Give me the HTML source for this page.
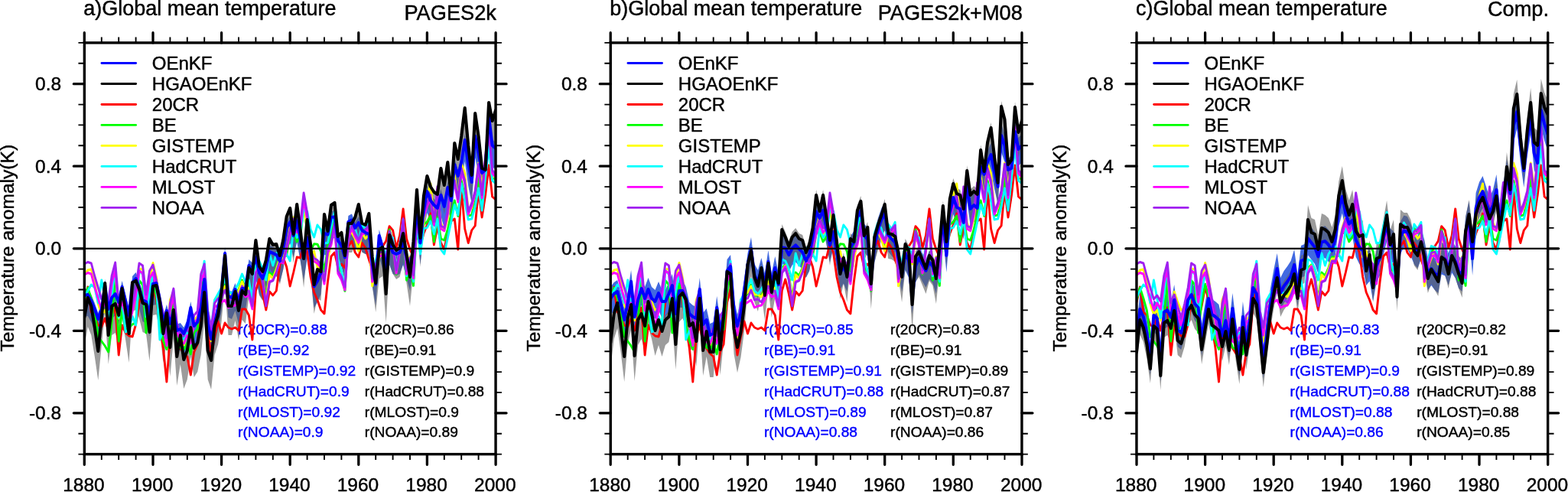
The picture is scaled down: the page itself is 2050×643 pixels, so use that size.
<!DOCTYPE html>
<html><head><meta charset="utf-8"><title>Global mean temperature</title>
<style>html,body{margin:0;padding:0;background:#fff}body{width:2050px;height:643px;overflow:hidden}svg{display:block}text{stroke:#000;stroke-width:.45px;stroke-linejoin:round}text.bl{fill:#00f;stroke:#00f}</style>
</head><body>
<svg width="2050" height="643" viewBox="0 0 2050 643" font-family='"Liberation Sans", sans-serif'>
<rect width="2050" height="643" fill="#fff"/>
<g>
<clipPath id="c0"><rect x="110.35" y="55.9" width="537.7" height="537.7"/></clipPath>
<g clip-path="url(#c0)" fill="none" stroke-linejoin="round" stroke-linecap="round">
<polygon points="110.3,378.0 114.8,377.0 119.3,385.0 123.8,396.0 128.3,409.0 132.8,396.0 137.2,365.0 141.7,396.0 146.2,381.0 150.7,376.0 155.2,387.0 159.6,367.0 164.1,385.0 168.6,404.0 173.1,361.0 177.6,356.0 182.0,367.0 186.5,384.3 191.0,386.0 195.5,403.5 200.0,363.0 204.4,362.0 208.9,383.0 213.4,413.6 217.9,398.0 222.4,415.0 226.9,398.0 231.3,424.0 235.8,422.0 240.3,428.0 244.8,418.0 249.3,394.0 253.7,418.0 258.2,413.0 262.7,394.0 267.2,357.0 271.7,415.0 276.1,435.0 280.6,415.0 285.1,394.0 289.6,371.0 294.1,323.0 298.5,378.7 303.0,381.1 307.5,370.0 312.0,387.2 316.5,369.0 320.9,369.4 325.4,339.0 329.9,343.5 334.4,328.4 338.9,348.4 343.4,356.1 347.8,342.3 352.3,320.8 356.8,322.8 361.3,325.1 365.8,333.3 370.2,316.5 374.7,289.7 379.2,282.0 383.7,300.3 388.2,280.6 392.6,304.7 397.1,330.1 401.6,302.2 406.1,326.5 410.6,366.4 415.0,359.1 419.5,348.6 424.0,296.9 428.5,298.5 433.0,276.1 437.5,275.3 441.9,306.5 446.4,312.7 450.9,328.4 455.4,282.0 459.9,279.5 464.3,290.0 468.8,283.0 473.3,293.0 477.8,296.0 482.3,298.0 486.7,336.9 491.2,363.6 495.7,300.0 500.2,316.0 504.7,342.0 509.1,310.0 513.6,322.0 518.1,324.0 522.6,322.0 527.1,310.0 531.5,328.0 536.0,344.0 540.5,314.0 545.0,262.0 549.5,309.5 554.0,267.0 558.4,242.0 562.9,254.0 567.4,260.0 571.9,264.0 576.4,247.0 580.8,262.0 585.3,237.0 589.8,254.0 594.3,207.0 598.8,222.0 603.2,204.0 607.7,175.0 612.2,207.0 616.7,230.0 621.2,170.0 625.6,192.0 630.1,218.0 634.6,214.0 639.1,144.0 643.6,182.0 648.1,186.0 648.1,222.0 643.6,218.0 639.1,180.0 634.6,250.0 630.1,254.0 625.6,228.0 621.2,206.0 616.7,266.0 612.2,243.0 607.7,211.0 603.2,240.0 598.8,258.0 594.3,243.0 589.8,290.0 585.3,273.0 580.8,298.0 576.4,283.0 571.9,300.0 567.4,296.0 562.9,290.0 558.4,278.0 554.0,303.0 549.5,345.5 545.0,298.0 540.5,350.0 536.0,380.0 531.5,364.0 527.1,346.0 522.6,358.0 518.1,360.0 513.6,358.0 509.1,346.0 504.7,378.0 500.2,352.0 495.7,336.0 491.2,399.6 486.7,372.9 482.3,334.0 477.8,332.0 473.3,329.0 468.8,319.0 464.3,326.0 459.9,315.5 455.4,318.0 450.9,364.4 446.4,348.7 441.9,342.5 437.5,311.3 433.0,312.1 428.5,334.5 424.0,332.9 419.5,384.6 415.0,395.1 410.6,402.4 406.1,362.5 401.6,338.2 397.1,366.1 392.6,340.7 388.2,316.6 383.7,336.3 379.2,318.0 374.7,325.7 370.2,352.5 365.8,369.3 361.3,361.1 356.8,358.8 352.3,356.8 347.8,378.3 343.4,392.1 338.9,384.4 334.4,364.4 329.9,379.5 325.4,375.0 320.9,405.4 316.5,405.0 312.0,423.2 307.5,406.0 303.0,417.1 298.5,414.7 294.1,359.0 289.6,407.0 285.1,430.0 280.6,451.0 276.1,471.0 271.7,451.0 267.2,393.0 262.7,430.0 258.2,449.0 253.7,454.0 249.3,430.0 244.8,454.0 240.3,464.0 235.8,458.0 231.3,460.0 226.9,434.0 222.4,451.0 217.9,434.0 213.4,449.6 208.9,419.0 204.4,398.0 200.0,399.0 195.5,439.5 191.0,422.0 186.5,420.3 182.0,403.0 177.6,392.0 173.1,397.0 168.6,440.0 164.1,421.0 159.6,403.0 155.2,423.0 150.7,412.0 146.2,417.0 141.7,432.0 137.2,401.0 132.8,432.0 128.3,445.0 123.8,432.0 119.3,421.0 114.8,413.0 110.3,414.0" fill="#4169e1" fill-opacity="1" stroke="none"/>
<polygon points="110.3,413.0 114.8,387.0 119.3,398.0 123.8,426.0 128.3,457.0 132.8,412.0 137.2,368.0 141.7,436.0 146.2,398.0 150.7,395.0 155.2,410.0 159.6,375.0 164.1,404.0 168.6,434.0 173.1,367.0 177.6,365.0 182.0,376.0 186.5,394.0 191.0,396.0 195.5,432.0 200.0,372.0 204.4,371.0 208.9,392.0 213.4,434.0 217.9,407.0 222.4,452.0 226.9,403.0 231.3,464.0 235.8,436.0 240.3,468.0 244.8,456.0 249.3,426.0 253.7,453.0 258.2,446.0 262.7,424.0 267.2,380.0 271.7,456.0 276.1,469.0 280.6,424.0 285.1,410.0 289.6,380.0 294.1,332.0 298.5,398.0 303.0,398.0 307.5,379.0 312.0,404.0 316.5,378.0 320.9,383.0 325.4,348.0 329.9,356.0 334.4,312.0 338.9,346.0 343.4,353.0 347.8,338.0 352.3,310.0 356.8,318.0 361.3,317.0 365.8,332.0 370.2,312.0 374.7,281.0 379.2,270.0 383.7,304.0 388.2,265.0 392.6,298.0 397.1,336.0 401.6,285.0 406.1,318.0 410.6,370.0 415.0,350.0 419.5,353.0 424.0,278.0 428.5,300.0 433.0,266.0 437.5,263.0 441.9,307.0 446.4,302.0 450.9,332.0 455.4,290.0 459.9,290.0 464.3,282.0 468.8,265.0 473.3,290.0 477.8,292.0 482.3,277.0 486.7,334.0 491.2,368.0 495.7,324.0 500.2,321.0 504.7,382.0 509.1,305.0 513.6,318.0 518.1,325.0 522.6,322.0 527.1,303.0 531.5,330.0 536.0,360.0 540.5,314.0 545.0,246.0 549.5,309.0 554.0,254.0 558.4,228.0 562.9,242.0 567.4,249.0 571.9,252.0 576.4,218.0 580.8,240.0 585.3,210.0 589.8,254.0 594.3,185.0 598.8,206.0 603.2,176.0 607.7,139.0 612.2,188.0 616.7,227.0 621.2,146.0 625.6,176.0 630.1,218.0 634.6,220.0 639.1,132.0 643.6,156.0 648.1,142.0 648.1,182.0 643.6,196.0 639.1,172.0 634.6,260.0 630.1,258.0 625.6,216.0 621.2,186.0 616.7,267.0 612.2,228.0 607.7,179.0 603.2,216.0 598.8,246.0 594.3,225.0 589.8,294.0 585.3,250.0 580.8,280.0 576.4,258.0 571.9,292.0 567.4,289.0 562.9,282.0 558.4,268.0 554.0,294.0 549.5,349.0 545.0,286.0 540.5,354.0 536.0,400.0 531.5,370.0 527.1,343.0 522.6,362.0 518.1,365.0 513.6,358.0 509.1,345.0 504.7,422.0 500.2,361.0 495.7,364.0 491.2,408.0 486.7,374.0 482.3,317.0 477.8,332.0 473.3,330.0 468.8,305.0 464.3,322.0 459.9,330.0 455.4,330.0 450.9,372.0 446.4,342.0 441.9,347.0 437.5,303.0 433.0,306.0 428.5,340.0 424.0,318.0 419.5,393.0 415.0,390.0 410.6,410.0 406.1,358.0 401.6,325.0 397.1,376.0 392.6,338.0 388.2,305.0 383.7,344.0 379.2,310.0 374.7,321.0 370.2,352.0 365.8,372.0 361.3,357.0 356.8,358.0 352.3,350.0 347.8,378.0 343.4,393.0 338.9,386.0 334.4,352.0 329.9,396.0 325.4,388.0 320.9,423.0 316.5,418.0 312.0,444.0 307.5,419.0 303.0,438.0 298.5,438.0 294.1,372.0 289.6,420.0 285.1,450.0 280.6,464.0 276.1,509.0 271.7,496.0 267.2,420.0 262.7,464.0 258.2,486.0 253.7,493.0 249.3,466.0 244.8,496.0 240.3,508.0 235.8,476.0 231.3,504.0 226.9,443.0 222.4,492.0 217.9,447.0 213.4,474.0 208.9,432.0 204.4,411.0 200.0,412.0 195.5,472.0 191.0,436.0 186.5,434.0 182.0,416.0 177.6,405.0 173.1,407.0 168.6,474.0 164.1,444.0 159.6,415.0 155.2,450.0 150.7,435.0 146.2,438.0 141.7,476.0 137.2,408.0 132.8,452.0 128.3,497.0 123.8,466.0 119.3,438.0 114.8,427.0 110.3,453.0" fill="#606060" fill-opacity="0.62" stroke="none"/>
</g>
<g font-size="19.2">
<text x="311.1" y="437.4" class="bl">r(20CR)=0.88</text>
<text x="476.8" y="437.4" fill="#000">r(20CR)=0.86</text>
<text x="311.1" y="464.2" class="bl">r(BE)=0.92</text>
<text x="476.8" y="464.2" fill="#000">r(BE)=0.91</text>
<text x="311.1" y="491.0" class="bl">r(GISTEMP)=0.92</text>
<text x="476.8" y="491.0" fill="#000">r(GISTEMP)=0.9</text>
<text x="311.1" y="517.8" class="bl">r(HadCRUT)=0.9</text>
<text x="476.8" y="517.8" fill="#000">r(HadCRUT)=0.88</text>
<text x="311.1" y="544.6" class="bl">r(MLOST)=0.92</text>
<text x="476.8" y="544.6" fill="#000">r(MLOST)=0.9</text>
<text x="311.1" y="571.4" class="bl">r(NOAA)=0.9</text>
<text x="476.8" y="571.4" fill="#000">r(NOAA)=0.89</text>
</g>
<g clip-path="url(#c0)" fill="none" stroke-linejoin="round" stroke-linecap="round">
<polyline points="110.3,395.0 114.8,375.0 119.3,408.0 123.8,412.0 128.3,425.0 132.8,427.0 137.2,416.0 141.7,432.0 146.2,412.0 150.7,402.0 155.2,464.0 159.6,425.0 164.1,435.0 168.6,439.0 173.1,440.0 177.6,424.0 182.0,395.0 186.5,385.0 191.0,420.0 195.5,400.0 200.0,375.0 204.4,392.0 208.9,425.0 213.4,455.0 217.9,499.0 222.4,440.0 226.9,425.0 231.3,448.0 235.8,455.0 240.3,462.0 244.8,466.0 249.3,490.0 253.7,460.0 258.2,450.0 262.7,395.0 267.2,378.0 271.7,432.0 276.1,464.0 280.6,440.0 285.1,420.0 289.6,436.0 294.1,422.0 298.5,428.0 303.0,430.0 307.5,428.0 312.0,432.0 316.5,404.0 320.9,404.0 325.4,412.0 329.9,444.0 334.4,380.0 338.9,365.0 343.4,384.0 347.8,405.0 352.3,381.0 356.8,386.0 361.3,380.0 365.8,346.0 370.2,336.0 374.7,349.0 379.2,374.0 383.7,356.0 388.2,336.0 392.6,337.0 397.1,318.0 401.6,330.0 406.1,362.0 410.6,382.0 415.0,392.0 419.5,405.0 424.0,410.0 428.5,368.0 433.0,335.0 437.5,330.0 441.9,350.0 446.4,345.0 450.9,350.0 455.4,322.0 459.9,315.0 464.3,330.0 468.8,336.0 473.3,317.5 477.8,324.0 482.3,339.0 486.7,352.0 491.2,345.0 495.7,330.0 500.2,322.0 504.7,315.0 509.1,295.6 513.6,301.0 518.1,324.0 522.6,308.0 527.1,273.0 531.5,312.0 536.0,326.0 540.5,336.0 545.0,305.0 549.5,322.0 554.0,305.0 558.4,294.0 562.9,279.0 567.4,320.0 571.9,296.0 576.4,317.5 580.8,326.0 585.3,304.0 589.8,289.0 594.3,286.0 598.8,326.0 603.2,246.0 607.7,299.0 612.2,317.5 616.7,301.0 621.2,295.0 625.6,249.0 630.1,284.0 634.6,255.0 639.1,216.0 643.6,257.0 648.1,261.0" stroke="#ff0000" stroke-width="2.9"/>
<polyline points="110.3,392.0 114.8,376.0 119.3,390.0 123.8,406.0 128.3,440.0 132.8,446.0 137.2,452.0 141.7,460.0 146.2,420.0 150.7,362.6 155.2,446.0 159.6,405.3 164.1,432.0 168.6,428.0 173.1,424.0 177.6,421.5 182.0,366.6 186.5,372.0 191.0,435.0 195.5,394.3 200.0,371.2 204.4,386.3 208.9,424.7 213.4,445.4 217.9,456.4 222.4,418.0 226.9,392.7 231.3,441.6 235.8,454.0 240.3,457.0 244.8,448.4 249.3,462.9 253.7,434.1 258.2,430.6 262.7,382.2 267.2,354.5 271.7,419.6 276.1,442.4 280.6,396.0 285.1,388.0 289.6,384.0 294.1,372.0 298.5,386.0 303.0,386.0 307.5,386.0 312.0,378.0 316.5,366.0 320.9,376.0 325.4,374.0 329.9,396.0 334.4,350.0 338.9,346.0 343.4,358.0 347.8,392.0 352.3,356.0 356.8,360.0 361.3,350.0 365.8,336.0 370.2,336.0 374.7,334.0 379.2,304.9 383.7,303.2 388.2,315.9 392.6,309.7 397.1,269.9 401.6,301.9 406.1,327.7 410.6,318.8 415.0,319.1 419.5,328.5 424.0,355.1 428.5,322.6 433.0,301.1 437.5,282.5 441.9,343.3 446.4,359.7 450.9,380.4 455.4,310.5 459.9,296.3 464.3,304.0 468.8,321.8 473.3,298.4 477.8,304.9 482.3,295.7 486.7,368.6 491.2,346.3 495.7,326.9 500.2,328.5 504.7,339.0 509.1,300.0 513.6,315.9 518.1,358.6 522.6,326.1 527.1,292.0 531.5,366.2 536.0,348.7 540.5,373.4 545.0,296.0 549.5,325.3 554.0,293.3 558.4,290.0 562.9,282.0 567.4,316.0 571.9,284.0 576.4,312.0 580.8,314.0 585.3,300.0 589.8,280.0 594.3,262.0 598.8,282.5 603.2,236.0 607.7,256.0 612.2,282.0 616.7,281.0 621.2,262.0 625.6,232.5 630.1,268.0 634.6,228.0 639.1,186.0 643.6,230.0 648.1,236.0" stroke="#00ff00" stroke-width="2.9"/>
<polyline points="110.3,360.0 114.8,353.0 119.3,352.0 123.8,367.7 128.3,397.3 132.8,410.7 137.2,405.3 141.7,418.8 146.2,367.7 150.7,348.9 155.2,416.1 159.6,381.1 164.1,394.6 168.6,405.3 173.1,402.7 177.6,381.1 182.0,351.6 186.5,351.6 191.0,394.6 195.5,367.7 200.0,343.5 204.4,362.3 208.9,397.3 213.4,421.5 217.9,448.4 222.4,391.9 226.9,381.1 231.3,426.8 235.8,437.6 240.3,451.0 244.8,437.6 249.3,440.3 253.7,418.8 258.2,413.4 262.7,362.3 267.2,359.6 271.7,418.8 276.1,445.7 280.6,392.0 285.1,386.0 289.6,382.0 294.1,374.0 298.5,385.0 303.0,385.0 307.5,388.0 312.0,380.0 316.5,368.0 320.9,378.0 325.4,376.0 329.9,398.0 334.4,354.0 338.9,347.0 343.4,362.0 347.8,396.0 352.3,359.0 356.8,364.0 361.3,352.0 365.8,338.0 370.2,338.0 374.7,324.0 379.2,298.0 383.7,284.0 388.2,306.0 392.6,300.0 397.1,272.0 401.6,298.0 406.1,336.0 410.6,328.1 415.0,349.6 419.5,349.6 424.0,365.7 428.5,338.8 433.0,317.3 437.5,298.5 441.9,354.9 446.4,357.6 450.9,371.1 455.4,306.6 459.9,303.9 464.3,311.9 468.8,328.1 473.3,303.9 477.8,311.9 482.3,306.6 486.7,373.8 491.2,349.6 495.7,337.4 500.2,327.9 504.7,345.3 509.1,311.7 513.6,318.3 518.1,349.1 522.6,326.2 527.1,287.2 531.5,350.3 536.0,335.4 540.5,360.9 545.0,285.6 549.5,315.2 554.0,291.0 558.4,256.1 562.9,240.0 567.4,288.4 571.9,250.7 576.4,291.0 580.8,301.7 585.3,285.6 589.8,248.0 594.3,229.1 598.8,261.4 603.2,213.0 607.7,226.5 612.2,274.8 616.7,272.2 621.2,250.7 625.6,213.0 630.1,245.3 634.6,210.3 639.1,170.0 643.6,231.8 648.1,229.1" stroke="#ffff00" stroke-width="2.9"/>
<polyline points="110.3,388.0 114.8,380.0 119.3,372.0 123.8,376.0 128.3,396.0 132.8,366.0 137.2,390.0 141.7,415.6 146.2,385.8 150.7,349.2 155.2,415.1 159.6,392.0 164.1,434.0 168.6,430.4 173.1,413.5 177.6,425.0 182.0,353.2 186.5,358.6 191.0,414.0 195.5,380.9 200.0,357.8 204.4,372.9 208.9,444.0 213.4,432.0 217.9,443.0 222.4,404.6 226.9,379.3 231.3,428.3 235.8,440.6 240.3,443.6 244.8,435.0 249.3,449.5 253.7,420.7 258.2,417.2 262.7,368.8 267.2,341.1 271.7,406.2 276.1,429.1 280.6,392.0 285.1,384.0 289.6,376.0 294.1,365.0 298.5,380.0 303.0,384.0 307.5,378.0 312.0,370.0 316.5,358.0 320.9,368.0 325.4,366.0 329.9,392.0 334.4,339.0 338.9,341.0 343.4,351.0 347.8,366.0 352.3,331.0 356.8,347.0 361.3,332.0 365.8,325.0 370.2,322.0 374.7,332.0 379.2,341.0 383.7,297.9 388.2,310.5 392.6,304.3 397.1,274.0 401.6,276.0 406.1,300.0 410.6,310.0 415.0,294.0 419.5,300.0 424.0,318.0 428.5,317.2 433.0,295.7 437.5,277.2 441.9,337.9 446.4,354.3 450.9,375.0 455.4,305.1 459.9,290.9 464.3,298.7 468.8,316.4 473.3,293.0 477.8,299.5 482.3,290.3 486.7,363.2 491.2,340.9 495.7,321.5 500.2,323.1 504.7,333.6 509.1,310.0 513.6,310.5 518.1,353.2 522.6,320.7 527.1,286.6 531.5,360.8 536.0,343.3 540.5,368.0 545.0,290.6 549.5,332.0 554.0,299.0 558.4,297.5 562.9,289.0 567.4,306.0 571.9,286.0 576.4,326.0 580.8,332.0 585.3,311.0 589.8,290.0 594.3,267.5 598.8,281.0 603.2,240.0 607.7,262.0 612.2,287.0 616.7,286.0 621.2,270.0 625.6,246.0 630.1,275.0 634.6,232.0 639.1,192.0 643.6,236.0 648.1,240.0" stroke="#00ffff" stroke-width="2.9"/>
<polyline points="110.3,359.0 114.8,356.5 119.3,358.0 123.8,375.0 128.3,390.0 132.8,405.0 137.2,396.0 141.7,404.0 146.2,370.0 150.7,353.0 155.2,406.0 159.6,395.0 164.1,411.0 168.6,425.0 173.1,407.0 177.6,386.0 182.0,354.0 186.5,357.0 191.0,395.0 195.5,364.0 200.0,356.0 204.4,376.0 208.9,400.0 213.4,419.0 217.9,451.7 222.4,406.0 226.9,387.1 231.3,432.8 235.8,446.3 240.3,449.0 244.8,438.2 249.3,449.0 253.7,422.1 258.2,416.7 262.7,368.3 267.2,354.9 271.7,416.7 276.1,438.2 280.6,402.0 285.1,398.0 289.6,395.0 294.1,392.0 298.5,402.0 303.0,400.0 307.5,399.0 312.0,392.0 316.5,380.0 320.9,388.0 325.4,386.0 329.9,404.0 334.4,356.0 338.9,348.0 343.4,364.0 347.8,398.0 352.3,368.0 356.8,366.0 361.3,356.0 365.8,342.0 370.2,344.0 374.7,326.0 379.2,306.0 383.7,292.0 388.2,304.0 392.6,298.0 397.1,262.0 401.6,286.0 406.1,332.0 410.6,341.5 415.0,344.2 419.5,349.6 424.0,371.1 428.5,330.8 433.0,320.0 437.5,295.8 441.9,357.6 446.4,365.7 450.9,379.1 455.4,311.9 459.9,298.5 464.3,309.2 468.8,317.3 473.3,306.6 477.8,303.9 482.3,298.5 486.7,368.4 491.2,349.6 495.7,334.7 500.2,333.3 504.7,342.6 509.1,306.3 513.6,321.0 518.1,357.2 522.6,328.9 527.1,289.9 531.5,358.4 536.0,340.8 540.5,363.6 545.0,288.3 549.5,312.5 554.0,282.9 558.4,269.5 562.9,258.7 567.4,293.7 571.9,248.0 576.4,299.0 580.8,301.7 585.3,280.2 589.8,242.6 594.3,239.9 598.8,264.1 603.2,223.8 607.7,239.9 612.2,280.2 616.7,269.5 621.2,253.3 625.6,218.4 630.1,258.7 634.6,207.6 639.1,170.0 643.6,226.5 648.1,231.8" stroke="#ff00ff" stroke-width="2.9"/>
<polyline points="110.3,345.0 114.8,342.5 119.3,344.0 123.8,361.0 128.3,376.0 132.8,391.0 137.2,386.0 141.7,394.0 146.2,360.0 150.7,343.0 155.2,396.0 159.6,385.0 164.1,401.0 168.6,415.0 173.1,397.0 177.6,376.0 182.0,344.0 186.5,347.0 191.0,385.0 195.5,354.0 200.0,346.0 204.4,366.0 208.9,390.0 213.4,409.0 217.9,441.7 222.4,396.0 226.9,377.1 231.3,422.8 235.8,436.3 240.3,439.0 244.8,428.2 249.3,439.0 253.7,412.1 258.2,406.7 262.7,358.3 267.2,344.9 271.7,406.7 276.1,428.2 280.6,396.0 285.1,390.0 289.6,390.0 294.1,379.0 298.5,392.0 303.0,391.0 307.5,395.0 312.0,386.0 316.5,374.0 320.9,382.0 325.4,380.0 329.9,400.0 334.4,357.0 338.9,351.0 343.4,366.0 347.8,400.0 352.3,369.0 356.8,367.0 361.3,356.0 365.8,341.0 370.2,342.0 374.7,322.0 379.2,300.0 383.7,286.0 388.2,298.0 392.6,292.0 397.1,252.0 401.6,278.0 406.1,328.0 410.6,337.4 415.0,340.1 419.5,345.5 424.0,367.0 428.5,326.7 433.0,315.9 437.5,291.7 441.9,353.6 446.4,361.6 450.9,375.1 455.4,307.9 459.9,294.4 464.3,305.2 468.8,313.2 473.3,302.5 477.8,299.8 482.3,294.4 486.7,364.3 491.2,345.5 495.7,330.7 500.2,329.2 504.7,338.6 509.1,302.2 513.6,317.0 518.1,353.1 522.6,324.8 527.1,285.8 531.5,354.3 536.0,336.7 540.5,359.5 545.0,284.2 549.5,308.4 554.0,278.8 558.4,265.4 562.9,254.7 567.4,289.6 571.9,243.9 576.4,295.0 580.8,297.7 585.3,276.2 589.8,238.5 594.3,235.8 598.8,260.0 603.2,219.7 607.7,235.8 612.2,276.2 616.7,265.4 621.2,249.3 625.6,214.3 630.1,254.7 634.6,203.6 639.1,165.9 643.6,222.4 648.1,227.8" stroke="#a020f0" stroke-width="2.9"/>
<polyline points="110.3,386.0 114.8,385.0 119.3,393.0 123.8,404.0 128.3,417.0 132.8,404.0 137.2,373.0 141.7,404.0 146.2,389.0 150.7,384.0 155.2,395.0 159.6,375.0 164.1,393.0 168.6,412.0 173.1,369.0 177.6,364.0 182.0,375.0 186.5,392.3 191.0,394.0 195.5,411.5 200.0,371.0 204.4,370.0 208.9,391.0 213.4,421.6 217.9,406.0 222.4,423.0 226.9,406.0 231.3,432.0 235.8,430.0 240.3,436.0 244.8,426.0 249.3,402.0 253.7,426.0 258.2,421.0 262.7,402.0 267.2,365.0 271.7,423.0 276.1,443.0 280.6,423.0 285.1,402.0 289.6,379.0 294.1,331.0 298.5,386.7 303.0,389.1 307.5,378.0 312.0,395.2 316.5,377.0 320.9,377.4 325.4,347.0 329.9,351.5 334.4,336.4 338.9,356.4 343.4,364.1 347.8,350.3 352.3,328.8 356.8,330.8 361.3,333.1 365.8,341.3 370.2,324.5 374.7,297.7 379.2,290.0 383.7,308.3 388.2,288.6 392.6,312.7 397.1,338.1 401.6,310.2 406.1,334.5 410.6,374.4 415.0,367.1 419.5,356.6 424.0,304.9 428.5,306.5 433.0,284.1 437.5,283.3 441.9,314.5 446.4,320.7 450.9,336.4 455.4,290.0 459.9,287.5 464.3,298.0 468.8,291.0 473.3,301.0 477.8,304.0 482.3,306.0 486.7,344.9 491.2,371.6 495.7,308.0 500.2,324.0 504.7,350.0 509.1,318.0 513.6,330.0 518.1,332.0 522.6,330.0 527.1,318.0 531.5,336.0 536.0,352.0 540.5,322.0 545.0,270.0 549.5,317.5 554.0,275.0 558.4,250.0 562.9,262.0 567.4,268.0 571.9,272.0 576.4,255.0 580.8,270.0 585.3,245.0 589.8,262.0 594.3,215.0 598.8,230.0 603.2,212.0 607.7,183.0 612.2,215.0 616.7,238.0 621.2,178.0 625.6,200.0 630.1,226.0 634.6,222.0 639.1,152.0 643.6,190.0 648.1,194.0" stroke="#0000ff" stroke-width="4.0"/>
<polyline points="110.3,415.0 114.8,389.0 119.3,400.0 123.8,428.0 128.3,459.0 132.8,414.0 137.2,370.0 141.7,438.0 146.2,400.0 150.7,397.0 155.2,412.0 159.6,377.0 164.1,406.0 168.6,436.0 173.1,369.0 177.6,367.0 182.0,378.0 186.5,396.0 191.0,398.0 195.5,434.0 200.0,374.0 204.4,373.0 208.9,394.0 213.4,436.0 217.9,409.0 222.4,454.0 226.9,405.0 231.3,466.0 235.8,438.0 240.3,470.0 244.8,458.0 249.3,428.0 253.7,455.0 258.2,448.0 262.7,426.0 267.2,382.0 271.7,458.0 276.1,471.0 280.6,426.0 285.1,412.0 289.6,382.0 294.1,334.0 298.5,400.0 303.0,400.0 307.5,381.0 312.0,406.0 316.5,380.0 320.9,385.0 325.4,350.0 329.9,358.0 334.4,314.0 338.9,348.0 343.4,355.0 347.8,340.0 352.3,312.0 356.8,320.0 361.3,319.0 365.8,334.0 370.2,314.0 374.7,283.0 379.2,272.0 383.7,306.0 388.2,267.0 392.6,300.0 397.1,338.0 401.6,287.0 406.1,320.0 410.6,372.0 415.0,352.0 419.5,355.0 424.0,280.0 428.5,302.0 433.0,268.0 437.5,265.0 441.9,309.0 446.4,304.0 450.9,334.0 455.4,292.0 459.9,292.0 464.3,284.0 468.8,267.0 473.3,292.0 477.8,294.0 482.3,279.0 486.7,336.0 491.2,370.0 495.7,326.0 500.2,323.0 504.7,384.0 509.1,307.0 513.6,320.0 518.1,327.0 522.6,324.0 527.1,305.0 531.5,332.0 536.0,362.0 540.5,316.0 545.0,248.0 549.5,311.0 554.0,256.0 558.4,230.0 562.9,244.0 567.4,251.0 571.9,254.0 576.4,220.0 580.8,242.0 585.3,212.0 589.8,256.0 594.3,187.0 598.8,208.0 603.2,178.0 607.7,141.0 612.2,190.0 616.7,229.0 621.2,148.0 625.6,178.0 630.1,220.0 634.6,222.0 639.1,134.0 643.6,158.0 648.1,144.0" stroke="#000" stroke-width="4.1"/>
</g>
<line x1="110.35" y1="324.8" x2="648.0500000000001" y2="324.8" stroke="#000" stroke-width="2.2"/>
<rect x="110.35" y="55.9" width="537.7" height="537.7" fill="none" stroke="#000" stroke-width="3.4"/>
<g stroke="#000" fill="none"><path d="M110.3,55.9V42.7M110.3,593.6V607.3000000000001" stroke-width="3.3" stroke-linecap="round"/><path d="M132.8,55.9V48.6M132.8,593.6V601.1" stroke-width="1.9"/><path d="M155.2,55.9V48.6M155.2,593.6V601.1" stroke-width="1.9"/><path d="M177.6,55.9V48.6M177.6,593.6V601.1" stroke-width="1.9"/><path d="M200.0,55.9V42.7M200.0,593.6V607.3000000000001" stroke-width="3.3" stroke-linecap="round"/><path d="M222.4,55.9V48.6M222.4,593.6V601.1" stroke-width="1.9"/><path d="M244.8,55.9V48.6M244.8,593.6V601.1" stroke-width="1.9"/><path d="M267.2,55.9V48.6M267.2,593.6V601.1" stroke-width="1.9"/><path d="M289.6,55.9V42.7M289.6,593.6V607.3000000000001" stroke-width="3.3" stroke-linecap="round"/><path d="M312.0,55.9V48.6M312.0,593.6V601.1" stroke-width="1.9"/><path d="M334.4,55.9V48.6M334.4,593.6V601.1" stroke-width="1.9"/><path d="M356.8,55.9V48.6M356.8,593.6V601.1" stroke-width="1.9"/><path d="M379.2,55.9V42.7M379.2,593.6V607.3000000000001" stroke-width="3.3" stroke-linecap="round"/><path d="M401.6,55.9V48.6M401.6,593.6V601.1" stroke-width="1.9"/><path d="M424.0,55.9V48.6M424.0,593.6V601.1" stroke-width="1.9"/><path d="M446.4,55.9V48.6M446.4,593.6V601.1" stroke-width="1.9"/><path d="M468.8,55.9V42.7M468.8,593.6V607.3000000000001" stroke-width="3.3" stroke-linecap="round"/><path d="M491.2,55.9V48.6M491.2,593.6V601.1" stroke-width="1.9"/><path d="M513.6,55.9V48.6M513.6,593.6V601.1" stroke-width="1.9"/><path d="M536.0,55.9V48.6M536.0,593.6V601.1" stroke-width="1.9"/><path d="M558.4,55.9V42.7M558.4,593.6V607.3000000000001" stroke-width="3.3" stroke-linecap="round"/><path d="M580.8,55.9V48.6M580.8,593.6V601.1" stroke-width="1.9"/><path d="M603.2,55.9V48.6M603.2,593.6V601.1" stroke-width="1.9"/><path d="M625.6,55.9V48.6M625.6,593.6V601.1" stroke-width="1.9"/><path d="M648.1,55.9V42.7M648.1,593.6V607.3000000000001" stroke-width="3.3" stroke-linecap="round"/><path d="M110.35,593.6H102.44999999999999M648.0500000000001,593.6H655.95" stroke-width="1.9"/><path d="M110.35,566.7H102.44999999999999M648.0500000000001,566.7H655.95" stroke-width="1.9"/><path d="M110.35,539.8H96.35M648.0500000000001,539.8H662.0500000000001" stroke-width="3.3" stroke-linecap="round"/><path d="M110.35,512.9H102.44999999999999M648.0500000000001,512.9H655.95" stroke-width="1.9"/><path d="M110.35,486.1H102.44999999999999M648.0500000000001,486.1H655.95" stroke-width="1.9"/><path d="M110.35,459.2H102.44999999999999M648.0500000000001,459.2H655.95" stroke-width="1.9"/><path d="M110.35,432.3H96.35M648.0500000000001,432.3H662.0500000000001" stroke-width="3.3" stroke-linecap="round"/><path d="M110.35,405.4H102.44999999999999M648.0500000000001,405.4H655.95" stroke-width="1.9"/><path d="M110.35,378.5H102.44999999999999M648.0500000000001,378.5H655.95" stroke-width="1.9"/><path d="M110.35,351.6H102.44999999999999M648.0500000000001,351.6H655.95" stroke-width="1.9"/><path d="M110.35,324.8H96.35M648.0500000000001,324.8H662.0500000000001" stroke-width="3.3" stroke-linecap="round"/><path d="M110.35,297.9H102.44999999999999M648.0500000000001,297.9H655.95" stroke-width="1.9"/><path d="M110.35,271.0H102.44999999999999M648.0500000000001,271.0H655.95" stroke-width="1.9"/><path d="M110.35,244.1H102.44999999999999M648.0500000000001,244.1H655.95" stroke-width="1.9"/><path d="M110.35,217.2H96.35M648.0500000000001,217.2H662.0500000000001" stroke-width="3.3" stroke-linecap="round"/><path d="M110.35,190.3H102.44999999999999M648.0500000000001,190.3H655.95" stroke-width="1.9"/><path d="M110.35,163.4H102.44999999999999M648.0500000000001,163.4H655.95" stroke-width="1.9"/><path d="M110.35,136.6H102.44999999999999M648.0500000000001,136.6H655.95" stroke-width="1.9"/><path d="M110.35,109.7H96.35M648.0500000000001,109.7H662.0500000000001" stroke-width="3.3" stroke-linecap="round"/><path d="M110.35,82.8H102.44999999999999M648.0500000000001,82.8H655.95" stroke-width="1.9"/><path d="M110.35,55.9H102.44999999999999M648.0500000000001,55.9H655.95" stroke-width="1.9"/></g>
<g font-size="24.5" fill="#000">
<text x="109.5" y="642.2" text-anchor="middle">1880</text>
<text x="199.2" y="642.2" text-anchor="middle">1900</text>
<text x="288.8" y="642.2" text-anchor="middle">1920</text>
<text x="378.4" y="642.2" text-anchor="middle">1940</text>
<text x="468.0" y="642.2" text-anchor="middle">1960</text>
<text x="557.6" y="642.2" text-anchor="middle">1980</text>
<text x="647.3" y="642.2" text-anchor="middle">2000</text>
<text x="80.1" y="118.0" text-anchor="end">0.8</text>
<text x="80.1" y="225.5" text-anchor="end">0.4</text>
<text x="80.1" y="333.1" text-anchor="end">0.0</text>
<text x="80.1" y="440.6" text-anchor="end">-0.4</text>
<text x="80.1" y="548.1" text-anchor="end">-0.8</text>
</g>
<text transform="translate(17.8,324.2) rotate(-90)" font-size="24.6" text-anchor="middle">Temperature anomaly(K)</text>
<text x="109.3" y="20.3" font-size="27">a)Global mean temperature</text>
<text x="648.9" y="25.8" font-size="27.2" text-anchor="end">PAGES2k</text>
<g font-size="24">
<line x1="133.0" y1="82.5" x2="177.6" y2="82.5" stroke="#0000ff" stroke-width="2.9" stroke-linecap="round"/>
<text x="198.8" y="90.8">OEnKF</text>
<line x1="133.0" y1="109.5" x2="177.6" y2="109.5" stroke="#000000" stroke-width="2.9" stroke-linecap="round"/>
<text x="198.8" y="117.8">HGAOEnKF</text>
<line x1="133.0" y1="136.5" x2="177.6" y2="136.5" stroke="#ff0000" stroke-width="2.9" stroke-linecap="round"/>
<text x="198.8" y="144.8">20CR</text>
<line x1="133.0" y1="163.4" x2="177.6" y2="163.4" stroke="#00ff00" stroke-width="2.9" stroke-linecap="round"/>
<text x="198.8" y="171.7">BE</text>
<line x1="133.0" y1="190.4" x2="177.6" y2="190.4" stroke="#ffff00" stroke-width="2.9" stroke-linecap="round"/>
<text x="198.8" y="198.7">GISTEMP</text>
<line x1="133.0" y1="217.4" x2="177.6" y2="217.4" stroke="#00ffff" stroke-width="2.9" stroke-linecap="round"/>
<text x="198.8" y="225.7">HadCRUT</text>
<line x1="133.0" y1="244.4" x2="177.6" y2="244.4" stroke="#ff00ff" stroke-width="2.9" stroke-linecap="round"/>
<text x="198.8" y="252.7">MLOST</text>
<line x1="133.0" y1="271.4" x2="177.6" y2="271.4" stroke="#a020f0" stroke-width="2.9" stroke-linecap="round"/>
<text x="198.8" y="279.7">NOAA</text>
</g>
</g>
<g>
<clipPath id="c1"><rect x="798.25" y="55.9" width="537.7" height="537.7"/></clipPath>
<g clip-path="url(#c1)" fill="none" stroke-linejoin="round" stroke-linecap="round">
<polygon points="798.2,375.0 802.7,369.0 807.2,366.0 811.7,383.0 816.2,403.0 820.7,381.0 825.1,353.0 829.6,399.0 834.1,377.0 838.6,362.0 843.1,375.0 847.5,363.0 852.0,375.0 856.5,379.0 861.0,368.0 865.5,379.0 869.9,379.0 874.4,369.0 878.9,358.0 883.4,395.0 887.9,365.0 892.3,365.0 896.8,375.0 901.3,395.0 905.8,399.0 910.3,401.0 914.8,363.0 919.2,409.0 923.7,403.0 928.2,423.0 932.7,421.0 937.2,387.0 941.6,419.0 946.1,395.0 950.6,339.0 955.1,333.0 959.6,391.0 964.0,411.0 968.5,395.0 973.0,365.0 977.5,331.0 982.0,310.0 986.4,345.0 990.9,353.0 995.4,337.0 999.9,357.0 1004.4,327.0 1008.8,357.0 1013.3,335.0 1017.8,357.0 1022.3,308.3 1026.8,309.2 1031.3,318.2 1035.7,309.8 1040.2,305.4 1044.7,310.4 1049.2,314.6 1053.7,326.0 1058.1,317.6 1062.6,294.6 1067.1,261.5 1071.6,270.1 1076.1,259.8 1080.5,283.1 1085.0,305.6 1089.5,287.9 1094.0,315.8 1098.5,341.6 1102.9,333.4 1107.4,344.2 1111.9,309.3 1116.4,301.8 1120.9,269.4 1125.4,260.6 1129.8,292.5 1134.3,297.9 1138.8,346.2 1143.3,306.2 1147.8,285.5 1152.2,272.6 1156.7,264.2 1161.2,291.7 1165.7,297.2 1170.2,302.1 1174.6,322.3 1179.1,344.2 1183.6,316.1 1188.1,326.1 1192.6,373.5 1197.0,332.6 1201.5,322.0 1206.0,331.0 1210.5,338.7 1215.0,327.7 1219.4,333.1 1223.9,347.1 1228.4,310.2 1232.9,271.4 1237.4,319.0 1241.9,263.0 1246.3,243.0 1250.8,256.0 1255.3,258.0 1259.8,276.0 1264.3,226.0 1268.7,258.0 1273.2,253.0 1277.7,257.0 1282.2,203.0 1286.7,213.0 1291.1,197.0 1295.6,187.0 1300.1,210.0 1304.6,229.0 1309.1,162.0 1313.5,175.0 1318.0,207.0 1322.5,205.0 1327.0,157.0 1331.5,180.0 1336.0,175.0 1336.0,212.0 1331.5,217.0 1327.0,194.0 1322.5,242.0 1318.0,244.0 1313.5,212.0 1309.1,199.0 1304.6,266.0 1300.1,247.0 1295.6,224.0 1291.1,234.0 1286.7,250.0 1282.2,240.0 1277.7,294.0 1273.2,290.0 1268.7,295.0 1264.3,263.0 1259.8,313.0 1255.3,295.0 1250.8,293.0 1246.3,280.0 1241.9,300.0 1237.4,356.0 1232.9,308.4 1228.4,347.2 1223.9,384.1 1219.4,370.1 1215.0,364.7 1210.5,375.7 1206.0,368.0 1201.5,359.0 1197.0,369.6 1192.6,410.5 1188.1,363.1 1183.6,353.1 1179.1,381.2 1174.6,359.3 1170.2,339.1 1165.7,334.2 1161.2,328.7 1156.7,301.2 1152.2,309.6 1147.8,322.5 1143.3,343.2 1138.8,383.2 1134.3,334.9 1129.8,329.5 1125.4,297.6 1120.9,306.4 1116.4,338.8 1111.9,346.3 1107.4,381.2 1102.9,370.4 1098.5,378.6 1094.0,352.8 1089.5,324.9 1085.0,342.6 1080.5,320.1 1076.1,296.8 1071.6,307.1 1067.1,298.5 1062.6,331.6 1058.1,354.6 1053.7,363.0 1049.2,351.6 1044.7,347.4 1040.2,342.4 1035.7,346.8 1031.3,355.2 1026.8,346.2 1022.3,345.3 1017.8,394.0 1013.3,372.0 1008.8,394.0 1004.4,364.0 999.9,394.0 995.4,374.0 990.9,390.0 986.4,382.0 982.0,347.0 977.5,368.0 973.0,402.0 968.5,432.0 964.0,448.0 959.6,428.0 955.1,370.0 950.6,376.0 946.1,432.0 941.6,456.0 937.2,424.0 932.7,458.0 928.2,460.0 923.7,440.0 919.2,446.0 914.8,400.0 910.3,438.0 905.8,436.0 901.3,432.0 896.8,412.0 892.3,402.0 887.9,402.0 883.4,432.0 878.9,395.0 874.4,406.0 869.9,416.0 865.5,416.0 861.0,405.0 856.5,416.0 852.0,412.0 847.5,400.0 843.1,412.0 838.6,399.0 834.1,414.0 829.6,436.0 825.1,390.0 820.7,418.0 816.2,440.0 811.7,420.0 807.2,403.0 802.7,406.0 798.2,412.0" fill="#4169e1" fill-opacity="1" stroke="none"/>
<polygon points="798.2,441.0 802.7,403.0 807.2,389.0 811.7,421.0 816.2,459.0 820.7,409.0 825.1,391.0 829.6,458.0 834.1,411.0 838.6,403.0 843.1,419.0 847.5,387.0 852.0,403.0 856.5,425.0 861.0,411.0 865.5,426.0 869.9,411.0 874.4,407.0 878.9,383.0 883.4,443.0 887.9,381.0 892.3,376.0 896.8,385.0 901.3,419.0 905.8,415.0 910.3,439.0 914.8,383.0 919.2,451.0 923.7,426.0 928.2,453.0 932.7,453.0 937.2,399.0 941.6,450.0 946.1,407.0 950.6,348.0 955.1,351.0 959.6,423.0 964.0,447.0 968.5,427.0 973.0,393.0 977.5,339.0 982.0,321.0 986.4,355.0 990.9,367.0 995.4,343.0 999.9,379.0 1004.4,337.0 1008.8,375.0 1013.3,349.0 1017.8,363.0 1022.3,293.0 1026.8,303.0 1031.3,315.0 1035.7,303.0 1040.2,298.0 1044.7,305.0 1049.2,307.0 1053.7,323.0 1058.1,313.0 1062.6,291.0 1067.1,248.0 1071.6,269.0 1076.1,248.0 1080.5,277.0 1085.0,307.0 1089.5,274.0 1094.0,309.0 1098.5,351.0 1102.9,330.0 1107.4,355.0 1111.9,305.0 1116.4,309.0 1120.9,268.0 1125.4,256.0 1129.8,301.0 1134.3,290.0 1138.8,364.0 1143.3,303.0 1147.8,287.0 1152.2,275.0 1156.7,260.0 1161.2,298.0 1165.7,299.0 1170.2,302.0 1174.6,323.0 1179.1,355.0 1183.6,312.0 1188.1,321.0 1192.6,391.0 1197.0,328.0 1201.5,322.0 1206.0,333.0 1210.5,344.0 1215.0,327.0 1219.4,333.0 1223.9,357.0 1228.4,313.0 1232.9,262.0 1237.4,309.0 1241.9,253.0 1246.3,233.0 1250.8,246.0 1255.3,248.0 1259.8,266.0 1264.3,216.0 1268.7,248.0 1273.2,243.0 1277.7,247.0 1282.2,189.0 1286.7,217.0 1291.1,179.0 1295.6,160.0 1300.1,198.0 1304.6,232.0 1309.1,132.0 1313.5,149.0 1318.0,208.0 1322.5,202.0 1327.0,133.0 1331.5,166.0 1336.0,151.0 1336.0,191.0 1331.5,206.0 1327.0,173.0 1322.5,242.0 1318.0,248.0 1313.5,189.0 1309.1,172.0 1304.6,272.0 1300.1,238.0 1295.6,200.0 1291.1,219.0 1286.7,257.0 1282.2,229.0 1277.7,287.0 1273.2,283.0 1268.7,288.0 1264.3,256.0 1259.8,306.0 1255.3,288.0 1250.8,286.0 1246.3,273.0 1241.9,293.0 1237.4,349.0 1232.9,302.0 1228.4,353.0 1223.9,397.0 1219.4,373.0 1215.0,367.0 1210.5,384.0 1206.0,373.0 1201.5,362.0 1197.0,368.0 1192.6,431.0 1188.1,361.0 1183.6,352.0 1179.1,395.0 1174.6,363.0 1170.2,342.0 1165.7,339.0 1161.2,338.0 1156.7,300.0 1152.2,315.0 1147.8,327.0 1143.3,343.0 1138.8,404.0 1134.3,330.0 1129.8,341.0 1125.4,296.0 1120.9,308.0 1116.4,349.0 1111.9,345.0 1107.4,395.0 1102.9,370.0 1098.5,391.0 1094.0,349.0 1089.5,314.0 1085.0,347.0 1080.5,317.0 1076.1,288.0 1071.6,309.0 1067.1,288.0 1062.6,331.0 1058.1,353.0 1053.7,363.0 1049.2,347.0 1044.7,345.0 1040.2,338.0 1035.7,343.0 1031.3,355.0 1026.8,343.0 1022.3,333.0 1017.8,403.0 1013.3,389.0 1008.8,415.0 1004.4,377.0 999.9,419.0 995.4,383.0 990.9,407.0 986.4,395.0 982.0,361.0 977.5,379.0 973.0,433.0 968.5,467.0 964.0,487.0 959.6,463.0 955.1,391.0 950.6,388.0 946.1,447.0 941.6,490.0 937.2,439.0 932.7,493.0 928.2,493.0 923.7,466.0 919.2,491.0 914.8,423.0 910.3,479.0 905.8,455.0 901.3,459.0 896.8,425.0 892.3,416.0 887.9,421.0 883.4,483.0 878.9,423.0 874.4,447.0 869.9,451.0 865.5,466.0 861.0,451.0 856.5,465.0 852.0,443.0 847.5,427.0 843.1,459.0 838.6,443.0 834.1,451.0 829.6,498.0 825.1,431.0 820.7,449.0 816.2,499.0 811.7,461.0 807.2,429.0 802.7,443.0 798.2,481.0" fill="#606060" fill-opacity="0.62" stroke="none"/>
</g>
<g font-size="19.2">
<text x="998.9" y="437.4" class="bl">r(20CR)=0.85</text>
<text x="1164.1" y="437.4" fill="#000">r(20CR)=0.83</text>
<text x="998.9" y="464.2" class="bl">r(BE)=0.91</text>
<text x="1164.1" y="464.2" fill="#000">r(BE)=0.91</text>
<text x="998.9" y="491.0" class="bl">r(GISTEMP)=0.91</text>
<text x="1164.1" y="491.0" fill="#000">r(GISTEMP)=0.89</text>
<text x="998.9" y="517.8" class="bl">r(HadCRUT)=0.88</text>
<text x="1164.1" y="517.8" fill="#000">r(HadCRUT)=0.87</text>
<text x="998.9" y="544.6" class="bl">r(MLOST)=0.89</text>
<text x="1164.1" y="544.6" fill="#000">r(MLOST)=0.87</text>
<text x="998.9" y="571.4" class="bl">r(NOAA)=0.88</text>
<text x="1164.1" y="571.4" fill="#000">r(NOAA)=0.86</text>
</g>
<g clip-path="url(#c1)" fill="none" stroke-linejoin="round" stroke-linecap="round">
<polyline points="798.2,395.0 802.7,375.0 807.2,408.0 811.7,412.0 816.2,425.0 820.7,427.0 825.1,416.0 829.6,432.0 834.1,412.0 838.6,402.0 843.1,464.0 847.5,425.0 852.0,435.0 856.5,439.0 861.0,440.0 865.5,424.0 869.9,395.0 874.4,385.0 878.9,420.0 883.4,400.0 887.9,375.0 892.3,392.0 896.8,425.0 901.3,455.0 905.8,499.0 910.3,440.0 914.8,425.0 919.2,448.0 923.7,455.0 928.2,462.0 932.7,466.0 937.2,490.0 941.6,460.0 946.1,450.0 950.6,395.0 955.1,378.0 959.6,432.0 964.0,464.0 968.5,440.0 973.0,420.0 977.5,436.0 982.0,422.0 986.4,428.0 990.9,430.0 995.4,428.0 999.9,432.0 1004.4,404.0 1008.8,404.0 1013.3,412.0 1017.8,444.0 1022.3,380.0 1026.8,365.0 1031.3,384.0 1035.7,405.0 1040.2,381.0 1044.7,386.0 1049.2,380.0 1053.7,346.0 1058.1,336.0 1062.6,349.0 1067.1,374.0 1071.6,356.0 1076.1,336.0 1080.5,337.0 1085.0,318.0 1089.5,330.0 1094.0,362.0 1098.5,382.0 1102.9,392.0 1107.4,405.0 1111.9,410.0 1116.4,368.0 1120.9,335.0 1125.4,330.0 1129.8,350.0 1134.3,345.0 1138.8,350.0 1143.3,322.0 1147.8,315.0 1152.2,330.0 1156.7,336.0 1161.2,317.5 1165.7,324.0 1170.2,339.0 1174.6,352.0 1179.1,345.0 1183.6,330.0 1188.1,322.0 1192.6,315.0 1197.0,295.6 1201.5,301.0 1206.0,324.0 1210.5,308.0 1215.0,273.0 1219.4,312.0 1223.9,326.0 1228.4,336.0 1232.9,305.0 1237.4,322.0 1241.9,305.0 1246.3,294.0 1250.8,279.0 1255.3,320.0 1259.8,296.0 1264.3,317.5 1268.7,326.0 1273.2,304.0 1277.7,289.0 1282.2,286.0 1286.7,326.0 1291.1,246.0 1295.6,299.0 1300.1,317.5 1304.6,301.0 1309.1,295.0 1313.5,249.0 1318.0,284.0 1322.5,255.0 1327.0,216.0 1331.5,257.0 1336.0,261.0" stroke="#ff0000" stroke-width="2.9"/>
<polyline points="798.2,392.0 802.7,376.0 807.2,390.0 811.7,406.0 816.2,440.0 820.7,446.0 825.1,452.0 829.6,460.0 834.1,420.0 838.6,362.6 843.1,446.0 847.5,405.3 852.0,432.0 856.5,428.0 861.0,424.0 865.5,421.5 869.9,366.6 874.4,372.0 878.9,435.0 883.4,394.3 887.9,371.2 892.3,386.3 896.8,424.7 901.3,445.4 905.8,456.4 910.3,418.0 914.8,392.7 919.2,441.6 923.7,454.0 928.2,457.0 932.7,448.4 937.2,462.9 941.6,434.1 946.1,430.6 950.6,382.2 955.1,354.5 959.6,419.6 964.0,442.4 968.5,396.0 973.0,388.0 977.5,384.0 982.0,372.0 986.4,386.0 990.9,386.0 995.4,386.0 999.9,378.0 1004.4,366.0 1008.8,376.0 1013.3,374.0 1017.8,396.0 1022.3,350.0 1026.8,346.0 1031.3,358.0 1035.7,392.0 1040.2,356.0 1044.7,360.0 1049.2,350.0 1053.7,336.0 1058.1,336.0 1062.6,334.0 1067.1,304.9 1071.6,303.2 1076.1,315.9 1080.5,309.7 1085.0,269.9 1089.5,301.9 1094.0,327.7 1098.5,318.8 1102.9,319.1 1107.4,328.5 1111.9,355.1 1116.4,322.6 1120.9,301.1 1125.4,282.5 1129.8,343.3 1134.3,359.7 1138.8,380.4 1143.3,310.5 1147.8,296.3 1152.2,304.0 1156.7,321.8 1161.2,298.4 1165.7,304.9 1170.2,295.7 1174.6,368.6 1179.1,346.3 1183.6,326.9 1188.1,328.5 1192.6,339.0 1197.0,300.0 1201.5,315.9 1206.0,358.6 1210.5,326.1 1215.0,292.0 1219.4,366.2 1223.9,348.7 1228.4,373.4 1232.9,296.0 1237.4,325.3 1241.9,293.3 1246.3,290.0 1250.8,282.0 1255.3,316.0 1259.8,284.0 1264.3,312.0 1268.7,314.0 1273.2,300.0 1277.7,280.0 1282.2,262.0 1286.7,282.5 1291.1,236.0 1295.6,256.0 1300.1,282.0 1304.6,281.0 1309.1,262.0 1313.5,232.5 1318.0,268.0 1322.5,228.0 1327.0,186.0 1331.5,230.0 1336.0,236.0" stroke="#00ff00" stroke-width="2.9"/>
<polyline points="798.2,360.0 802.7,353.0 807.2,352.0 811.7,367.7 816.2,397.3 820.7,410.7 825.1,405.3 829.6,418.8 834.1,367.7 838.6,348.9 843.1,416.1 847.5,381.1 852.0,394.6 856.5,405.3 861.0,402.7 865.5,381.1 869.9,351.6 874.4,351.6 878.9,394.6 883.4,367.7 887.9,343.5 892.3,362.3 896.8,397.3 901.3,421.5 905.8,448.4 910.3,391.9 914.8,381.1 919.2,426.8 923.7,437.6 928.2,451.0 932.7,437.6 937.2,440.3 941.6,418.8 946.1,413.4 950.6,362.3 955.1,359.6 959.6,418.8 964.0,445.7 968.5,392.0 973.0,386.0 977.5,382.0 982.0,374.0 986.4,385.0 990.9,385.0 995.4,388.0 999.9,380.0 1004.4,368.0 1008.8,378.0 1013.3,376.0 1017.8,398.0 1022.3,354.0 1026.8,347.0 1031.3,362.0 1035.7,396.0 1040.2,359.0 1044.7,364.0 1049.2,352.0 1053.7,338.0 1058.1,338.0 1062.6,324.0 1067.1,298.0 1071.6,284.0 1076.1,306.0 1080.5,300.0 1085.0,272.0 1089.5,298.0 1094.0,336.0 1098.5,328.1 1102.9,349.6 1107.4,349.6 1111.9,365.7 1116.4,338.8 1120.9,317.3 1125.4,298.5 1129.8,354.9 1134.3,357.6 1138.8,371.1 1143.3,306.6 1147.8,303.9 1152.2,311.9 1156.7,328.1 1161.2,303.9 1165.7,311.9 1170.2,306.6 1174.6,373.8 1179.1,349.6 1183.6,337.4 1188.1,327.9 1192.6,345.3 1197.0,311.7 1201.5,318.3 1206.0,349.1 1210.5,326.2 1215.0,287.2 1219.4,350.3 1223.9,335.4 1228.4,360.9 1232.9,285.6 1237.4,315.2 1241.9,291.0 1246.3,256.1 1250.8,240.0 1255.3,288.4 1259.8,250.7 1264.3,291.0 1268.7,301.7 1273.2,285.6 1277.7,248.0 1282.2,229.1 1286.7,261.4 1291.1,213.0 1295.6,226.5 1300.1,274.8 1304.6,272.2 1309.1,250.7 1313.5,213.0 1318.0,245.3 1322.5,210.3 1327.0,170.0 1331.5,231.8 1336.0,229.1" stroke="#ffff00" stroke-width="2.9"/>
<polyline points="798.2,388.0 802.7,380.0 807.2,372.0 811.7,376.0 816.2,396.0 820.7,366.0 825.1,390.0 829.6,415.6 834.1,385.8 838.6,349.2 843.1,415.1 847.5,392.0 852.0,434.0 856.5,430.4 861.0,413.5 865.5,425.0 869.9,353.2 874.4,358.6 878.9,414.0 883.4,380.9 887.9,357.8 892.3,372.9 896.8,444.0 901.3,432.0 905.8,443.0 910.3,404.6 914.8,379.3 919.2,428.3 923.7,440.6 928.2,443.6 932.7,435.0 937.2,449.5 941.6,420.7 946.1,417.2 950.6,368.8 955.1,341.1 959.6,406.2 964.0,429.1 968.5,392.0 973.0,384.0 977.5,376.0 982.0,365.0 986.4,380.0 990.9,384.0 995.4,378.0 999.9,370.0 1004.4,358.0 1008.8,368.0 1013.3,366.0 1017.8,392.0 1022.3,339.0 1026.8,341.0 1031.3,351.0 1035.7,366.0 1040.2,331.0 1044.7,347.0 1049.2,332.0 1053.7,325.0 1058.1,322.0 1062.6,332.0 1067.1,341.0 1071.6,297.9 1076.1,310.5 1080.5,304.3 1085.0,274.0 1089.5,276.0 1094.0,300.0 1098.5,310.0 1102.9,294.0 1107.4,300.0 1111.9,318.0 1116.4,317.2 1120.9,295.7 1125.4,277.2 1129.8,337.9 1134.3,354.3 1138.8,375.0 1143.3,305.1 1147.8,290.9 1152.2,298.7 1156.7,316.4 1161.2,293.0 1165.7,299.5 1170.2,290.3 1174.6,363.2 1179.1,340.9 1183.6,321.5 1188.1,323.1 1192.6,333.6 1197.0,310.0 1201.5,310.5 1206.0,353.2 1210.5,320.7 1215.0,286.6 1219.4,360.8 1223.9,343.3 1228.4,368.0 1232.9,290.6 1237.4,332.0 1241.9,299.0 1246.3,297.5 1250.8,289.0 1255.3,306.0 1259.8,286.0 1264.3,326.0 1268.7,332.0 1273.2,311.0 1277.7,290.0 1282.2,267.5 1286.7,281.0 1291.1,240.0 1295.6,262.0 1300.1,287.0 1304.6,286.0 1309.1,270.0 1313.5,246.0 1318.0,275.0 1322.5,232.0 1327.0,192.0 1331.5,236.0 1336.0,240.0" stroke="#00ffff" stroke-width="2.9"/>
<polyline points="798.2,359.0 802.7,356.5 807.2,358.0 811.7,375.0 816.2,390.0 820.7,405.0 825.1,396.0 829.6,404.0 834.1,370.0 838.6,353.0 843.1,406.0 847.5,395.0 852.0,411.0 856.5,425.0 861.0,407.0 865.5,386.0 869.9,354.0 874.4,357.0 878.9,395.0 883.4,364.0 887.9,356.0 892.3,376.0 896.8,400.0 901.3,419.0 905.8,451.7 910.3,406.0 914.8,387.1 919.2,432.8 923.7,446.3 928.2,449.0 932.7,438.2 937.2,449.0 941.6,422.1 946.1,416.7 950.6,368.3 955.1,354.9 959.6,416.7 964.0,438.2 968.5,402.0 973.0,398.0 977.5,395.0 982.0,392.0 986.4,402.0 990.9,400.0 995.4,399.0 999.9,392.0 1004.4,380.0 1008.8,388.0 1013.3,386.0 1017.8,404.0 1022.3,356.0 1026.8,348.0 1031.3,364.0 1035.7,398.0 1040.2,368.0 1044.7,366.0 1049.2,356.0 1053.7,342.0 1058.1,344.0 1062.6,326.0 1067.1,306.0 1071.6,292.0 1076.1,304.0 1080.5,298.0 1085.0,262.0 1089.5,286.0 1094.0,332.0 1098.5,341.5 1102.9,344.2 1107.4,349.6 1111.9,371.1 1116.4,330.8 1120.9,320.0 1125.4,295.8 1129.8,357.6 1134.3,365.7 1138.8,379.1 1143.3,311.9 1147.8,298.5 1152.2,309.2 1156.7,317.3 1161.2,306.6 1165.7,303.9 1170.2,298.5 1174.6,368.4 1179.1,349.6 1183.6,334.7 1188.1,333.3 1192.6,342.6 1197.0,306.3 1201.5,321.0 1206.0,357.2 1210.5,328.9 1215.0,289.9 1219.4,358.4 1223.9,340.8 1228.4,363.6 1232.9,288.3 1237.4,312.5 1241.9,282.9 1246.3,269.5 1250.8,258.7 1255.3,293.7 1259.8,248.0 1264.3,299.0 1268.7,301.7 1273.2,280.2 1277.7,242.6 1282.2,239.9 1286.7,264.1 1291.1,223.8 1295.6,239.9 1300.1,280.2 1304.6,269.5 1309.1,253.3 1313.5,218.4 1318.0,258.7 1322.5,207.6 1327.0,170.0 1331.5,226.5 1336.0,231.8" stroke="#ff00ff" stroke-width="2.9"/>
<polyline points="798.2,345.0 802.7,342.5 807.2,344.0 811.7,361.0 816.2,376.0 820.7,391.0 825.1,386.0 829.6,394.0 834.1,360.0 838.6,343.0 843.1,396.0 847.5,385.0 852.0,401.0 856.5,415.0 861.0,397.0 865.5,376.0 869.9,344.0 874.4,347.0 878.9,385.0 883.4,354.0 887.9,346.0 892.3,366.0 896.8,390.0 901.3,409.0 905.8,441.7 910.3,396.0 914.8,377.1 919.2,422.8 923.7,436.3 928.2,439.0 932.7,428.2 937.2,439.0 941.6,412.1 946.1,406.7 950.6,358.3 955.1,344.9 959.6,406.7 964.0,428.2 968.5,396.0 973.0,390.0 977.5,390.0 982.0,379.0 986.4,392.0 990.9,391.0 995.4,395.0 999.9,386.0 1004.4,374.0 1008.8,382.0 1013.3,380.0 1017.8,400.0 1022.3,357.0 1026.8,351.0 1031.3,366.0 1035.7,400.0 1040.2,369.0 1044.7,367.0 1049.2,356.0 1053.7,341.0 1058.1,342.0 1062.6,322.0 1067.1,300.0 1071.6,286.0 1076.1,298.0 1080.5,292.0 1085.0,252.0 1089.5,278.0 1094.0,328.0 1098.5,337.4 1102.9,340.1 1107.4,345.5 1111.9,367.0 1116.4,326.7 1120.9,315.9 1125.4,291.7 1129.8,353.6 1134.3,361.6 1138.8,375.1 1143.3,307.9 1147.8,294.4 1152.2,305.2 1156.7,313.2 1161.2,302.5 1165.7,299.8 1170.2,294.4 1174.6,364.3 1179.1,345.5 1183.6,330.7 1188.1,329.2 1192.6,338.6 1197.0,302.2 1201.5,317.0 1206.0,353.1 1210.5,324.8 1215.0,285.8 1219.4,354.3 1223.9,336.7 1228.4,359.5 1232.9,284.2 1237.4,308.4 1241.9,278.8 1246.3,265.4 1250.8,254.7 1255.3,289.6 1259.8,243.9 1264.3,295.0 1268.7,297.7 1273.2,276.2 1277.7,238.5 1282.2,235.8 1286.7,260.0 1291.1,219.7 1295.6,235.8 1300.1,276.2 1304.6,265.4 1309.1,249.3 1313.5,214.3 1318.0,254.7 1322.5,203.6 1327.0,165.9 1331.5,222.4 1336.0,227.8" stroke="#a020f0" stroke-width="2.9"/>
<polyline points="798.2,390.0 802.7,384.0 807.2,381.0 811.7,398.0 816.2,418.0 820.7,396.0 825.1,368.0 829.6,414.0 834.1,392.0 838.6,377.0 843.1,390.0 847.5,378.0 852.0,390.0 856.5,394.0 861.0,383.0 865.5,394.0 869.9,394.0 874.4,384.0 878.9,373.0 883.4,410.0 887.9,380.0 892.3,380.0 896.8,390.0 901.3,410.0 905.8,414.0 910.3,416.0 914.8,378.0 919.2,424.0 923.7,418.0 928.2,438.0 932.7,436.0 937.2,402.0 941.6,434.0 946.1,410.0 950.6,354.0 955.1,348.0 959.6,406.0 964.0,426.0 968.5,410.0 973.0,380.0 977.5,346.0 982.0,325.0 986.4,360.0 990.9,368.0 995.4,352.0 999.9,372.0 1004.4,342.0 1008.8,372.0 1013.3,350.0 1017.8,372.0 1022.3,323.3 1026.8,324.2 1031.3,333.2 1035.7,324.8 1040.2,320.4 1044.7,325.4 1049.2,329.6 1053.7,341.0 1058.1,332.6 1062.6,309.6 1067.1,276.5 1071.6,285.1 1076.1,274.8 1080.5,298.1 1085.0,320.6 1089.5,302.9 1094.0,330.8 1098.5,356.6 1102.9,348.4 1107.4,359.2 1111.9,324.3 1116.4,316.8 1120.9,284.4 1125.4,275.6 1129.8,307.5 1134.3,312.9 1138.8,361.2 1143.3,321.2 1147.8,300.5 1152.2,287.6 1156.7,279.2 1161.2,306.7 1165.7,312.2 1170.2,317.1 1174.6,337.3 1179.1,359.2 1183.6,331.1 1188.1,341.1 1192.6,388.5 1197.0,347.6 1201.5,337.0 1206.0,346.0 1210.5,353.7 1215.0,342.7 1219.4,348.1 1223.9,362.1 1228.4,325.2 1232.9,286.4 1237.4,334.0 1241.9,278.0 1246.3,258.0 1250.8,271.0 1255.3,273.0 1259.8,291.0 1264.3,241.0 1268.7,273.0 1273.2,268.0 1277.7,272.0 1282.2,218.0 1286.7,228.0 1291.1,212.0 1295.6,202.0 1300.1,225.0 1304.6,244.0 1309.1,177.0 1313.5,190.0 1318.0,222.0 1322.5,220.0 1327.0,172.0 1331.5,195.0 1336.0,190.0" stroke="#0000ff" stroke-width="4.0"/>
<polyline points="798.2,448.0 802.7,410.0 807.2,396.0 811.7,428.0 816.2,466.0 820.7,416.0 825.1,398.0 829.6,465.0 834.1,418.0 838.6,410.0 843.1,426.0 847.5,394.0 852.0,410.0 856.5,432.0 861.0,418.0 865.5,433.0 869.9,418.0 874.4,414.0 878.9,390.0 883.4,450.0 887.9,388.0 892.3,383.0 896.8,392.0 901.3,426.0 905.8,422.0 910.3,446.0 914.8,390.0 919.2,458.0 923.7,433.0 928.2,460.0 932.7,460.0 937.2,406.0 941.6,457.0 946.1,414.0 950.6,355.0 955.1,358.0 959.6,430.0 964.0,454.0 968.5,434.0 973.0,400.0 977.5,346.0 982.0,328.0 986.4,362.0 990.9,374.0 995.4,350.0 999.9,386.0 1004.4,344.0 1008.8,382.0 1013.3,356.0 1017.8,370.0 1022.3,300.0 1026.8,310.0 1031.3,322.0 1035.7,310.0 1040.2,305.0 1044.7,312.0 1049.2,314.0 1053.7,330.0 1058.1,320.0 1062.6,298.0 1067.1,255.0 1071.6,276.0 1076.1,255.0 1080.5,284.0 1085.0,314.0 1089.5,281.0 1094.0,316.0 1098.5,358.0 1102.9,337.0 1107.4,362.0 1111.9,312.0 1116.4,316.0 1120.9,275.0 1125.4,263.0 1129.8,308.0 1134.3,297.0 1138.8,371.0 1143.3,310.0 1147.8,294.0 1152.2,282.0 1156.7,267.0 1161.2,305.0 1165.7,306.0 1170.2,309.0 1174.6,330.0 1179.1,362.0 1183.6,319.0 1188.1,328.0 1192.6,398.0 1197.0,335.0 1201.5,329.0 1206.0,340.0 1210.5,351.0 1215.0,334.0 1219.4,340.0 1223.9,364.0 1228.4,320.0 1232.9,269.0 1237.4,316.0 1241.9,260.0 1246.3,240.0 1250.8,253.0 1255.3,255.0 1259.8,273.0 1264.3,223.0 1268.7,255.0 1273.2,250.0 1277.7,254.0 1282.2,196.0 1286.7,224.0 1291.1,186.0 1295.6,167.0 1300.1,205.0 1304.6,239.0 1309.1,139.0 1313.5,156.0 1318.0,215.0 1322.5,209.0 1327.0,140.0 1331.5,173.0 1336.0,158.0" stroke="#000" stroke-width="4.1"/>
</g>
<line x1="798.25" y1="324.8" x2="1335.95" y2="324.8" stroke="#000" stroke-width="2.2"/>
<rect x="798.25" y="55.9" width="537.7" height="537.7" fill="none" stroke="#000" stroke-width="3.4"/>
<g stroke="#000" fill="none"><path d="M798.2,55.9V42.7M798.2,593.6V607.3000000000001" stroke-width="3.3" stroke-linecap="round"/><path d="M820.7,55.9V48.6M820.7,593.6V601.1" stroke-width="1.9"/><path d="M843.1,55.9V48.6M843.1,593.6V601.1" stroke-width="1.9"/><path d="M865.5,55.9V48.6M865.5,593.6V601.1" stroke-width="1.9"/><path d="M887.9,55.9V42.7M887.9,593.6V607.3000000000001" stroke-width="3.3" stroke-linecap="round"/><path d="M910.3,55.9V48.6M910.3,593.6V601.1" stroke-width="1.9"/><path d="M932.7,55.9V48.6M932.7,593.6V601.1" stroke-width="1.9"/><path d="M955.1,55.9V48.6M955.1,593.6V601.1" stroke-width="1.9"/><path d="M977.5,55.9V42.7M977.5,593.6V607.3000000000001" stroke-width="3.3" stroke-linecap="round"/><path d="M999.9,55.9V48.6M999.9,593.6V601.1" stroke-width="1.9"/><path d="M1022.3,55.9V48.6M1022.3,593.6V601.1" stroke-width="1.9"/><path d="M1044.7,55.9V48.6M1044.7,593.6V601.1" stroke-width="1.9"/><path d="M1067.1,55.9V42.7M1067.1,593.6V607.3000000000001" stroke-width="3.3" stroke-linecap="round"/><path d="M1089.5,55.9V48.6M1089.5,593.6V601.1" stroke-width="1.9"/><path d="M1111.9,55.9V48.6M1111.9,593.6V601.1" stroke-width="1.9"/><path d="M1134.3,55.9V48.6M1134.3,593.6V601.1" stroke-width="1.9"/><path d="M1156.7,55.9V42.7M1156.7,593.6V607.3000000000001" stroke-width="3.3" stroke-linecap="round"/><path d="M1179.1,55.9V48.6M1179.1,593.6V601.1" stroke-width="1.9"/><path d="M1201.5,55.9V48.6M1201.5,593.6V601.1" stroke-width="1.9"/><path d="M1223.9,55.9V48.6M1223.9,593.6V601.1" stroke-width="1.9"/><path d="M1246.3,55.9V42.7M1246.3,593.6V607.3000000000001" stroke-width="3.3" stroke-linecap="round"/><path d="M1268.7,55.9V48.6M1268.7,593.6V601.1" stroke-width="1.9"/><path d="M1291.1,55.9V48.6M1291.1,593.6V601.1" stroke-width="1.9"/><path d="M1313.5,55.9V48.6M1313.5,593.6V601.1" stroke-width="1.9"/><path d="M1336.0,55.9V42.7M1336.0,593.6V607.3000000000001" stroke-width="3.3" stroke-linecap="round"/><path d="M798.25,593.6H790.35M1335.95,593.6H1343.8500000000001" stroke-width="1.9"/><path d="M798.25,566.7H790.35M1335.95,566.7H1343.8500000000001" stroke-width="1.9"/><path d="M798.25,539.8H784.25M1335.95,539.8H1349.95" stroke-width="3.3" stroke-linecap="round"/><path d="M798.25,512.9H790.35M1335.95,512.9H1343.8500000000001" stroke-width="1.9"/><path d="M798.25,486.1H790.35M1335.95,486.1H1343.8500000000001" stroke-width="1.9"/><path d="M798.25,459.2H790.35M1335.95,459.2H1343.8500000000001" stroke-width="1.9"/><path d="M798.25,432.3H784.25M1335.95,432.3H1349.95" stroke-width="3.3" stroke-linecap="round"/><path d="M798.25,405.4H790.35M1335.95,405.4H1343.8500000000001" stroke-width="1.9"/><path d="M798.25,378.5H790.35M1335.95,378.5H1343.8500000000001" stroke-width="1.9"/><path d="M798.25,351.6H790.35M1335.95,351.6H1343.8500000000001" stroke-width="1.9"/><path d="M798.25,324.8H784.25M1335.95,324.8H1349.95" stroke-width="3.3" stroke-linecap="round"/><path d="M798.25,297.9H790.35M1335.95,297.9H1343.8500000000001" stroke-width="1.9"/><path d="M798.25,271.0H790.35M1335.95,271.0H1343.8500000000001" stroke-width="1.9"/><path d="M798.25,244.1H790.35M1335.95,244.1H1343.8500000000001" stroke-width="1.9"/><path d="M798.25,217.2H784.25M1335.95,217.2H1349.95" stroke-width="3.3" stroke-linecap="round"/><path d="M798.25,190.3H790.35M1335.95,190.3H1343.8500000000001" stroke-width="1.9"/><path d="M798.25,163.4H790.35M1335.95,163.4H1343.8500000000001" stroke-width="1.9"/><path d="M798.25,136.6H790.35M1335.95,136.6H1343.8500000000001" stroke-width="1.9"/><path d="M798.25,109.7H784.25M1335.95,109.7H1349.95" stroke-width="3.3" stroke-linecap="round"/><path d="M798.25,82.8H790.35M1335.95,82.8H1343.8500000000001" stroke-width="1.9"/><path d="M798.25,55.9H790.35M1335.95,55.9H1343.8500000000001" stroke-width="1.9"/></g>
<g font-size="24.5" fill="#000">
<text x="797.5" y="642.2" text-anchor="middle">1880</text>
<text x="887.1" y="642.2" text-anchor="middle">1900</text>
<text x="976.7" y="642.2" text-anchor="middle">1920</text>
<text x="1066.3" y="642.2" text-anchor="middle">1940</text>
<text x="1155.9" y="642.2" text-anchor="middle">1960</text>
<text x="1245.5" y="642.2" text-anchor="middle">1980</text>
<text x="1335.2" y="642.2" text-anchor="middle">2000</text>
<text x="768.0" y="118.0" text-anchor="end">0.8</text>
<text x="768.0" y="225.5" text-anchor="end">0.4</text>
<text x="768.0" y="333.1" text-anchor="end">0.0</text>
<text x="768.0" y="440.6" text-anchor="end">-0.4</text>
<text x="768.0" y="548.1" text-anchor="end">-0.8</text>
</g>
<text transform="translate(705.8,324.2) rotate(-90)" font-size="24.6" text-anchor="middle">Temperature anomaly(K)</text>
<text x="797.2" y="20.3" font-size="27">b)Global mean temperature</text>
<text x="1336.8" y="25.8" font-size="27.2" text-anchor="end">PAGES2k+M08</text>
<g font-size="24">
<line x1="821.0" y1="82.5" x2="865.5" y2="82.5" stroke="#0000ff" stroke-width="2.9" stroke-linecap="round"/>
<text x="886.8" y="90.8">OEnKF</text>
<line x1="821.0" y1="109.5" x2="865.5" y2="109.5" stroke="#000000" stroke-width="2.9" stroke-linecap="round"/>
<text x="886.8" y="117.8">HGAOEnKF</text>
<line x1="821.0" y1="136.5" x2="865.5" y2="136.5" stroke="#ff0000" stroke-width="2.9" stroke-linecap="round"/>
<text x="886.8" y="144.8">20CR</text>
<line x1="821.0" y1="163.4" x2="865.5" y2="163.4" stroke="#00ff00" stroke-width="2.9" stroke-linecap="round"/>
<text x="886.8" y="171.7">BE</text>
<line x1="821.0" y1="190.4" x2="865.5" y2="190.4" stroke="#ffff00" stroke-width="2.9" stroke-linecap="round"/>
<text x="886.8" y="198.7">GISTEMP</text>
<line x1="821.0" y1="217.4" x2="865.5" y2="217.4" stroke="#00ffff" stroke-width="2.9" stroke-linecap="round"/>
<text x="886.8" y="225.7">HadCRUT</text>
<line x1="821.0" y1="244.4" x2="865.5" y2="244.4" stroke="#ff00ff" stroke-width="2.9" stroke-linecap="round"/>
<text x="886.8" y="252.7">MLOST</text>
<line x1="821.0" y1="271.4" x2="865.5" y2="271.4" stroke="#a020f0" stroke-width="2.9" stroke-linecap="round"/>
<text x="886.8" y="279.7">NOAA</text>
</g>
</g>
<g>
<clipPath id="c2"><rect x="1485.95" y="55.9" width="537.7" height="537.7"/></clipPath>
<g clip-path="url(#c2)" fill="none" stroke-linejoin="round" stroke-linecap="round">
<polygon points="1486.0,426.0 1490.4,384.0 1494.9,394.0 1499.4,416.0 1503.9,448.0 1508.4,392.0 1512.8,396.0 1517.3,457.0 1521.8,388.0 1526.3,385.0 1530.8,395.0 1535.2,372.0 1539.7,411.0 1544.2,415.0 1548.7,400.0 1553.2,372.0 1557.6,365.0 1562.1,377.0 1566.6,382.0 1571.1,423.0 1575.6,396.0 1580.0,370.0 1584.5,391.0 1589.0,394.0 1593.5,398.0 1598.0,419.0 1602.5,399.0 1606.9,424.0 1611.4,383.0 1615.9,420.0 1620.4,449.0 1624.9,394.0 1629.3,430.0 1633.8,400.0 1638.3,356.0 1642.8,364.0 1647.3,406.0 1651.7,453.0 1656.2,416.0 1660.7,378.0 1665.2,353.0 1669.7,331.0 1674.1,363.0 1678.6,354.0 1683.1,348.0 1687.6,341.0 1692.1,326.0 1696.5,358.0 1701.0,321.0 1705.5,319.0 1710.0,291.4 1714.5,297.2 1719.0,303.1 1723.4,315.4 1727.9,296.5 1732.4,295.2 1736.9,299.9 1741.4,307.7 1745.8,291.7 1750.3,253.8 1754.8,236.8 1759.3,259.2 1763.8,272.6 1768.2,267.7 1772.7,293.7 1777.2,302.9 1781.7,307.7 1786.2,331.1 1790.6,325.5 1795.1,351.6 1799.6,327.2 1804.1,317.7 1808.6,291.6 1813.1,273.5 1817.5,298.8 1822.0,302.2 1826.5,352.4 1831.0,289.6 1835.5,281.5 1839.9,283.1 1844.4,292.5 1848.9,303.4 1853.4,308.6 1857.9,296.8 1862.3,313.8 1866.8,337.0 1871.3,331.0 1875.8,337.0 1880.3,341.0 1884.7,316.6 1889.2,318.4 1893.7,330.8 1898.2,314.4 1902.7,321.4 1907.1,334.8 1911.6,339.0 1916.1,283.6 1920.6,262.8 1925.1,318.0 1929.6,252.0 1934.0,238.0 1938.5,230.0 1943.0,244.0 1947.5,258.0 1952.0,248.0 1956.4,228.0 1960.9,272.0 1965.4,242.0 1969.9,208.0 1974.4,233.0 1978.8,145.0 1983.3,126.0 1987.8,170.0 1992.3,203.0 1996.8,162.0 2001.2,133.0 2005.7,180.0 2010.2,193.0 2014.7,124.0 2019.2,142.0 2023.7,156.0 2023.7,198.0 2019.2,184.0 2014.7,166.0 2010.2,235.0 2005.7,222.0 2001.2,175.0 1996.8,204.0 1992.3,245.0 1987.8,212.0 1983.3,168.0 1978.8,187.0 1974.4,275.0 1969.9,250.0 1965.4,284.0 1960.9,314.0 1956.4,270.0 1952.0,290.0 1947.5,300.0 1943.0,286.0 1938.5,272.0 1934.0,280.0 1929.6,294.0 1925.1,360.0 1920.6,304.8 1916.1,325.6 1911.6,381.0 1907.1,376.8 1902.7,363.4 1898.2,356.4 1893.7,372.8 1889.2,360.4 1884.7,358.6 1880.3,383.0 1875.8,379.0 1871.3,373.0 1866.8,379.0 1862.3,355.8 1857.9,338.8 1853.4,350.6 1848.9,345.4 1844.4,334.5 1839.9,325.1 1835.5,323.5 1831.0,331.6 1826.5,394.4 1822.0,344.2 1817.5,340.8 1813.1,315.5 1808.6,333.6 1804.1,359.7 1799.6,369.2 1795.1,393.6 1790.6,367.5 1786.2,373.1 1781.7,349.7 1777.2,344.9 1772.7,335.7 1768.2,309.7 1763.8,314.6 1759.3,301.2 1754.8,278.8 1750.3,295.8 1745.8,333.7 1741.4,349.7 1736.9,341.9 1732.4,337.2 1727.9,338.5 1723.4,357.4 1719.0,345.1 1714.5,339.2 1710.0,333.4 1705.5,361.0 1701.0,363.0 1696.5,400.0 1692.1,368.0 1687.6,383.0 1683.1,390.0 1678.6,396.0 1674.1,405.0 1669.7,373.0 1665.2,395.0 1660.7,420.0 1656.2,458.0 1651.7,495.0 1647.3,448.0 1642.8,406.0 1638.3,398.0 1633.8,442.0 1629.3,472.0 1624.9,436.0 1620.4,491.0 1615.9,462.0 1611.4,425.0 1606.9,466.0 1602.5,441.0 1598.0,461.0 1593.5,440.0 1589.0,436.0 1584.5,433.0 1580.0,412.0 1575.6,438.0 1571.1,465.0 1566.6,424.0 1562.1,419.0 1557.6,407.0 1553.2,414.0 1548.7,442.0 1544.2,457.0 1539.7,453.0 1535.2,414.0 1530.8,437.0 1526.3,427.0 1521.8,430.0 1517.3,499.0 1512.8,438.0 1508.4,434.0 1503.9,490.0 1499.4,458.0 1494.9,436.0 1490.4,426.0 1486.0,468.0" fill="#4169e1" fill-opacity="1" stroke="none"/>
<polygon points="1486.0,441.0 1490.4,399.0 1494.9,409.0 1499.4,431.0 1503.9,463.0 1508.4,407.0 1512.8,411.0 1517.3,472.0 1521.8,403.0 1526.3,400.0 1530.8,410.0 1535.2,387.0 1539.7,426.0 1544.2,430.0 1548.7,415.0 1553.2,387.0 1557.6,380.0 1562.1,392.0 1566.6,397.0 1571.1,438.0 1575.6,411.0 1580.0,385.0 1584.5,406.0 1589.0,409.0 1593.5,413.0 1598.0,434.0 1602.5,414.0 1606.9,439.0 1611.4,398.0 1615.9,435.0 1620.4,464.0 1624.9,409.0 1629.3,445.0 1633.8,415.0 1638.3,371.0 1642.8,379.0 1647.3,421.0 1651.7,468.0 1656.2,431.0 1660.7,393.0 1665.2,366.0 1669.7,344.0 1674.1,376.0 1678.6,367.0 1683.1,361.0 1687.6,354.0 1692.1,339.0 1696.5,371.0 1701.0,334.0 1705.5,332.0 1710.0,268.0 1714.5,285.0 1719.0,287.0 1723.4,307.0 1727.9,279.0 1732.4,281.0 1736.9,285.0 1741.4,297.0 1745.8,281.0 1750.3,237.0 1754.8,217.0 1759.3,247.0 1763.8,262.0 1768.2,248.0 1772.7,283.0 1777.2,290.0 1781.7,288.0 1786.2,335.0 1790.6,314.0 1795.1,357.0 1799.6,319.0 1804.1,317.0 1808.6,287.0 1813.1,262.0 1817.5,301.0 1822.0,287.0 1826.5,369.0 1831.0,274.0 1835.5,278.0 1839.9,278.0 1844.4,287.0 1848.9,309.0 1853.4,315.0 1857.9,297.0 1862.3,317.0 1866.8,345.0 1871.3,333.0 1875.8,341.0 1880.3,349.0 1884.7,317.0 1889.2,321.0 1893.7,339.0 1898.2,315.0 1902.7,325.0 1907.1,339.0 1911.6,351.0 1916.1,283.0 1920.6,261.0 1925.1,297.0 1929.6,261.0 1934.0,247.0 1938.5,239.0 1943.0,253.0 1947.5,267.0 1952.0,257.0 1956.4,237.0 1960.9,281.0 1965.4,251.0 1969.9,199.0 1974.4,229.0 1978.8,123.0 1983.3,104.0 1987.8,161.0 1992.3,201.0 1996.8,151.0 2001.2,115.0 2005.7,167.0 2010.2,171.0 2014.7,103.0 2019.2,121.0 2023.7,131.0 2023.7,169.0 2019.2,159.0 2014.7,141.0 2010.2,209.0 2005.7,205.0 2001.2,153.0 1996.8,189.0 1992.3,239.0 1987.8,199.0 1983.3,142.0 1978.8,161.0 1974.4,267.0 1969.9,237.0 1965.4,289.0 1960.9,319.0 1956.4,275.0 1952.0,295.0 1947.5,305.0 1943.0,291.0 1938.5,277.0 1934.0,285.0 1929.6,299.0 1925.1,335.0 1920.6,299.0 1916.1,321.0 1911.6,389.0 1907.1,377.0 1902.7,363.0 1898.2,353.0 1893.7,377.0 1889.2,359.0 1884.7,355.0 1880.3,387.0 1875.8,379.0 1871.3,371.0 1866.8,383.0 1862.3,355.0 1857.9,335.0 1853.4,353.0 1848.9,347.0 1844.4,325.0 1839.9,316.0 1835.5,316.0 1831.0,312.0 1826.5,407.0 1822.0,325.0 1817.5,339.0 1813.1,300.0 1808.6,325.0 1804.1,355.0 1799.6,357.0 1795.1,395.0 1790.6,352.0 1786.2,373.0 1781.7,326.0 1777.2,328.0 1772.7,321.0 1768.2,286.0 1763.8,300.0 1759.3,285.0 1754.8,255.0 1750.3,275.0 1745.8,319.0 1741.4,335.0 1736.9,323.0 1732.4,319.0 1727.9,317.0 1723.4,345.0 1719.0,325.0 1714.5,323.0 1710.0,306.0 1705.5,370.0 1701.0,372.0 1696.5,409.0 1692.1,377.0 1687.6,392.0 1683.1,399.0 1678.6,405.0 1674.1,414.0 1669.7,382.0 1665.2,404.0 1660.7,431.0 1656.2,469.0 1651.7,506.0 1647.3,459.0 1642.8,417.0 1638.3,409.0 1633.8,453.0 1629.3,483.0 1624.9,447.0 1620.4,502.0 1615.9,473.0 1611.4,436.0 1606.9,477.0 1602.5,452.0 1598.0,472.0 1593.5,451.0 1589.0,447.0 1584.5,444.0 1580.0,423.0 1575.6,449.0 1571.1,476.0 1566.6,435.0 1562.1,430.0 1557.6,418.0 1553.2,425.0 1548.7,453.0 1544.2,468.0 1539.7,464.0 1535.2,425.0 1530.8,448.0 1526.3,438.0 1521.8,441.0 1517.3,510.0 1512.8,449.0 1508.4,445.0 1503.9,501.0 1499.4,469.0 1494.9,447.0 1490.4,437.0 1486.0,479.0" fill="#606060" fill-opacity="0.62" stroke="none"/>
</g>
<g font-size="19.2">
<text x="1686.6" y="437.4" class="bl">r(20CR)=0.83</text>
<text x="1852.2" y="437.4" fill="#000">r(20CR)=0.82</text>
<text x="1686.6" y="464.2" class="bl">r(BE)=0.91</text>
<text x="1852.2" y="464.2" fill="#000">r(BE)=0.91</text>
<text x="1686.6" y="491.0" class="bl">r(GISTEMP)=0.9</text>
<text x="1852.2" y="491.0" fill="#000">r(GISTEMP)=0.89</text>
<text x="1686.6" y="517.8" class="bl">r(HadCRUT)=0.88</text>
<text x="1852.2" y="517.8" fill="#000">r(HadCRUT)=0.88</text>
<text x="1686.6" y="544.6" class="bl">r(MLOST)=0.88</text>
<text x="1852.2" y="544.6" fill="#000">r(MLOST)=0.88</text>
<text x="1686.6" y="571.4" class="bl">r(NOAA)=0.86</text>
<text x="1852.2" y="571.4" fill="#000">r(NOAA)=0.85</text>
</g>
<g clip-path="url(#c2)" fill="none" stroke-linejoin="round" stroke-linecap="round">
<polyline points="1486.0,395.0 1490.4,375.0 1494.9,408.0 1499.4,412.0 1503.9,425.0 1508.4,427.0 1512.8,416.0 1517.3,432.0 1521.8,412.0 1526.3,402.0 1530.8,464.0 1535.2,425.0 1539.7,435.0 1544.2,439.0 1548.7,440.0 1553.2,424.0 1557.6,395.0 1562.1,385.0 1566.6,420.0 1571.1,400.0 1575.6,375.0 1580.0,392.0 1584.5,425.0 1589.0,455.0 1593.5,499.0 1598.0,440.0 1602.5,425.0 1606.9,448.0 1611.4,455.0 1615.9,462.0 1620.4,466.0 1624.9,490.0 1629.3,460.0 1633.8,450.0 1638.3,395.0 1642.8,378.0 1647.3,432.0 1651.7,464.0 1656.2,440.0 1660.7,420.0 1665.2,436.0 1669.7,422.0 1674.1,428.0 1678.6,430.0 1683.1,428.0 1687.6,432.0 1692.1,404.0 1696.5,404.0 1701.0,412.0 1705.5,444.0 1710.0,380.0 1714.5,365.0 1719.0,384.0 1723.4,405.0 1727.9,381.0 1732.4,386.0 1736.9,380.0 1741.4,346.0 1745.8,336.0 1750.3,349.0 1754.8,374.0 1759.3,356.0 1763.8,336.0 1768.2,337.0 1772.7,318.0 1777.2,330.0 1781.7,362.0 1786.2,382.0 1790.6,392.0 1795.1,405.0 1799.6,410.0 1804.1,368.0 1808.6,335.0 1813.1,330.0 1817.5,350.0 1822.0,345.0 1826.5,350.0 1831.0,322.0 1835.5,315.0 1839.9,330.0 1844.4,336.0 1848.9,317.5 1853.4,324.0 1857.9,339.0 1862.3,352.0 1866.8,345.0 1871.3,330.0 1875.8,322.0 1880.3,315.0 1884.7,295.6 1889.2,301.0 1893.7,324.0 1898.2,308.0 1902.7,273.0 1907.1,312.0 1911.6,326.0 1916.1,336.0 1920.6,305.0 1925.1,322.0 1929.6,305.0 1934.0,294.0 1938.5,279.0 1943.0,320.0 1947.5,296.0 1952.0,317.5 1956.4,326.0 1960.9,304.0 1965.4,289.0 1969.9,286.0 1974.4,326.0 1978.8,246.0 1983.3,299.0 1987.8,317.5 1992.3,301.0 1996.8,295.0 2001.2,249.0 2005.7,284.0 2010.2,255.0 2014.7,216.0 2019.2,257.0 2023.7,261.0" stroke="#ff0000" stroke-width="2.9"/>
<polyline points="1486.0,392.0 1490.4,376.0 1494.9,390.0 1499.4,406.0 1503.9,440.0 1508.4,446.0 1512.8,452.0 1517.3,460.0 1521.8,420.0 1526.3,362.6 1530.8,446.0 1535.2,405.3 1539.7,432.0 1544.2,428.0 1548.7,424.0 1553.2,421.5 1557.6,366.6 1562.1,372.0 1566.6,435.0 1571.1,394.3 1575.6,371.2 1580.0,386.3 1584.5,424.7 1589.0,445.4 1593.5,456.4 1598.0,418.0 1602.5,392.7 1606.9,441.6 1611.4,454.0 1615.9,457.0 1620.4,448.4 1624.9,462.9 1629.3,434.1 1633.8,430.6 1638.3,382.2 1642.8,354.5 1647.3,419.6 1651.7,442.4 1656.2,396.0 1660.7,388.0 1665.2,384.0 1669.7,372.0 1674.1,386.0 1678.6,386.0 1683.1,386.0 1687.6,378.0 1692.1,366.0 1696.5,376.0 1701.0,374.0 1705.5,396.0 1710.0,350.0 1714.5,346.0 1719.0,358.0 1723.4,392.0 1727.9,356.0 1732.4,360.0 1736.9,350.0 1741.4,336.0 1745.8,336.0 1750.3,334.0 1754.8,304.9 1759.3,303.2 1763.8,315.9 1768.2,309.7 1772.7,269.9 1777.2,301.9 1781.7,327.7 1786.2,318.8 1790.6,319.1 1795.1,328.5 1799.6,355.1 1804.1,322.6 1808.6,301.1 1813.1,282.5 1817.5,343.3 1822.0,359.7 1826.5,380.4 1831.0,310.5 1835.5,296.3 1839.9,304.0 1844.4,321.8 1848.9,298.4 1853.4,304.9 1857.9,295.7 1862.3,368.6 1866.8,346.3 1871.3,326.9 1875.8,328.5 1880.3,339.0 1884.7,300.0 1889.2,315.9 1893.7,358.6 1898.2,326.1 1902.7,292.0 1907.1,366.2 1911.6,348.7 1916.1,373.4 1920.6,296.0 1925.1,325.3 1929.6,293.3 1934.0,290.0 1938.5,282.0 1943.0,316.0 1947.5,284.0 1952.0,312.0 1956.4,314.0 1960.9,300.0 1965.4,280.0 1969.9,262.0 1974.4,282.5 1978.8,236.0 1983.3,256.0 1987.8,282.0 1992.3,281.0 1996.8,262.0 2001.2,232.5 2005.7,268.0 2010.2,228.0 2014.7,186.0 2019.2,230.0 2023.7,236.0" stroke="#00ff00" stroke-width="2.9"/>
<polyline points="1486.0,360.0 1490.4,353.0 1494.9,352.0 1499.4,367.7 1503.9,397.3 1508.4,410.7 1512.8,405.3 1517.3,418.8 1521.8,367.7 1526.3,348.9 1530.8,416.1 1535.2,381.1 1539.7,394.6 1544.2,405.3 1548.7,402.7 1553.2,381.1 1557.6,351.6 1562.1,351.6 1566.6,394.6 1571.1,367.7 1575.6,343.5 1580.0,362.3 1584.5,397.3 1589.0,421.5 1593.5,448.4 1598.0,391.9 1602.5,381.1 1606.9,426.8 1611.4,437.6 1615.9,451.0 1620.4,437.6 1624.9,440.3 1629.3,418.8 1633.8,413.4 1638.3,362.3 1642.8,359.6 1647.3,418.8 1651.7,445.7 1656.2,392.0 1660.7,386.0 1665.2,382.0 1669.7,374.0 1674.1,385.0 1678.6,385.0 1683.1,388.0 1687.6,380.0 1692.1,368.0 1696.5,378.0 1701.0,376.0 1705.5,398.0 1710.0,354.0 1714.5,347.0 1719.0,362.0 1723.4,396.0 1727.9,359.0 1732.4,364.0 1736.9,352.0 1741.4,338.0 1745.8,338.0 1750.3,324.0 1754.8,298.0 1759.3,284.0 1763.8,306.0 1768.2,300.0 1772.7,272.0 1777.2,298.0 1781.7,336.0 1786.2,328.1 1790.6,349.6 1795.1,349.6 1799.6,365.7 1804.1,338.8 1808.6,317.3 1813.1,298.5 1817.5,354.9 1822.0,357.6 1826.5,371.1 1831.0,306.6 1835.5,303.9 1839.9,311.9 1844.4,328.1 1848.9,303.9 1853.4,311.9 1857.9,306.6 1862.3,373.8 1866.8,349.6 1871.3,337.4 1875.8,327.9 1880.3,345.3 1884.7,311.7 1889.2,318.3 1893.7,349.1 1898.2,326.2 1902.7,287.2 1907.1,350.3 1911.6,335.4 1916.1,360.9 1920.6,285.6 1925.1,315.2 1929.6,291.0 1934.0,256.1 1938.5,240.0 1943.0,288.4 1947.5,250.7 1952.0,291.0 1956.4,301.7 1960.9,285.6 1965.4,248.0 1969.9,229.1 1974.4,261.4 1978.8,213.0 1983.3,226.5 1987.8,274.8 1992.3,272.2 1996.8,250.7 2001.2,213.0 2005.7,245.3 2010.2,210.3 2014.7,170.0 2019.2,231.8 2023.7,229.1" stroke="#ffff00" stroke-width="2.9"/>
<polyline points="1486.0,388.0 1490.4,380.0 1494.9,372.0 1499.4,376.0 1503.9,396.0 1508.4,366.0 1512.8,390.0 1517.3,415.6 1521.8,385.8 1526.3,349.2 1530.8,415.1 1535.2,392.0 1539.7,434.0 1544.2,430.4 1548.7,413.5 1553.2,425.0 1557.6,353.2 1562.1,358.6 1566.6,414.0 1571.1,380.9 1575.6,357.8 1580.0,372.9 1584.5,444.0 1589.0,432.0 1593.5,443.0 1598.0,404.6 1602.5,379.3 1606.9,428.3 1611.4,440.6 1615.9,443.6 1620.4,435.0 1624.9,449.5 1629.3,420.7 1633.8,417.2 1638.3,368.8 1642.8,341.1 1647.3,406.2 1651.7,429.1 1656.2,392.0 1660.7,384.0 1665.2,376.0 1669.7,365.0 1674.1,380.0 1678.6,384.0 1683.1,378.0 1687.6,370.0 1692.1,358.0 1696.5,368.0 1701.0,366.0 1705.5,392.0 1710.0,339.0 1714.5,341.0 1719.0,351.0 1723.4,366.0 1727.9,331.0 1732.4,347.0 1736.9,332.0 1741.4,325.0 1745.8,322.0 1750.3,332.0 1754.8,341.0 1759.3,297.9 1763.8,310.5 1768.2,304.3 1772.7,274.0 1777.2,276.0 1781.7,300.0 1786.2,310.0 1790.6,294.0 1795.1,300.0 1799.6,318.0 1804.1,317.2 1808.6,295.7 1813.1,277.2 1817.5,337.9 1822.0,354.3 1826.5,375.0 1831.0,305.1 1835.5,290.9 1839.9,298.7 1844.4,316.4 1848.9,293.0 1853.4,299.5 1857.9,290.3 1862.3,363.2 1866.8,340.9 1871.3,321.5 1875.8,323.1 1880.3,333.6 1884.7,310.0 1889.2,310.5 1893.7,353.2 1898.2,320.7 1902.7,286.6 1907.1,360.8 1911.6,343.3 1916.1,368.0 1920.6,290.6 1925.1,332.0 1929.6,299.0 1934.0,297.5 1938.5,289.0 1943.0,306.0 1947.5,286.0 1952.0,326.0 1956.4,332.0 1960.9,311.0 1965.4,290.0 1969.9,267.5 1974.4,281.0 1978.8,240.0 1983.3,262.0 1987.8,287.0 1992.3,286.0 1996.8,270.0 2001.2,246.0 2005.7,275.0 2010.2,232.0 2014.7,192.0 2019.2,236.0 2023.7,240.0" stroke="#00ffff" stroke-width="2.9"/>
<polyline points="1486.0,359.0 1490.4,356.5 1494.9,358.0 1499.4,375.0 1503.9,390.0 1508.4,405.0 1512.8,396.0 1517.3,404.0 1521.8,370.0 1526.3,353.0 1530.8,406.0 1535.2,395.0 1539.7,411.0 1544.2,425.0 1548.7,407.0 1553.2,386.0 1557.6,354.0 1562.1,357.0 1566.6,395.0 1571.1,364.0 1575.6,356.0 1580.0,376.0 1584.5,400.0 1589.0,419.0 1593.5,451.7 1598.0,406.0 1602.5,387.1 1606.9,432.8 1611.4,446.3 1615.9,449.0 1620.4,438.2 1624.9,449.0 1629.3,422.1 1633.8,416.7 1638.3,368.3 1642.8,354.9 1647.3,416.7 1651.7,438.2 1656.2,402.0 1660.7,398.0 1665.2,395.0 1669.7,392.0 1674.1,402.0 1678.6,400.0 1683.1,399.0 1687.6,392.0 1692.1,380.0 1696.5,388.0 1701.0,386.0 1705.5,404.0 1710.0,356.0 1714.5,348.0 1719.0,364.0 1723.4,398.0 1727.9,368.0 1732.4,366.0 1736.9,356.0 1741.4,342.0 1745.8,344.0 1750.3,326.0 1754.8,306.0 1759.3,292.0 1763.8,304.0 1768.2,298.0 1772.7,262.0 1777.2,286.0 1781.7,332.0 1786.2,341.5 1790.6,344.2 1795.1,349.6 1799.6,371.1 1804.1,330.8 1808.6,320.0 1813.1,295.8 1817.5,357.6 1822.0,365.7 1826.5,379.1 1831.0,311.9 1835.5,298.5 1839.9,309.2 1844.4,317.3 1848.9,306.6 1853.4,303.9 1857.9,298.5 1862.3,368.4 1866.8,349.6 1871.3,334.7 1875.8,333.3 1880.3,342.6 1884.7,306.3 1889.2,321.0 1893.7,357.2 1898.2,328.9 1902.7,289.9 1907.1,358.4 1911.6,340.8 1916.1,363.6 1920.6,288.3 1925.1,312.5 1929.6,282.9 1934.0,269.5 1938.5,258.7 1943.0,293.7 1947.5,248.0 1952.0,299.0 1956.4,301.7 1960.9,280.2 1965.4,242.6 1969.9,239.9 1974.4,264.1 1978.8,223.8 1983.3,239.9 1987.8,280.2 1992.3,269.5 1996.8,253.3 2001.2,218.4 2005.7,258.7 2010.2,207.6 2014.7,170.0 2019.2,226.5 2023.7,231.8" stroke="#ff00ff" stroke-width="2.9"/>
<polyline points="1486.0,345.0 1490.4,342.5 1494.9,344.0 1499.4,361.0 1503.9,376.0 1508.4,391.0 1512.8,386.0 1517.3,394.0 1521.8,360.0 1526.3,343.0 1530.8,396.0 1535.2,385.0 1539.7,401.0 1544.2,415.0 1548.7,397.0 1553.2,376.0 1557.6,344.0 1562.1,347.0 1566.6,385.0 1571.1,354.0 1575.6,346.0 1580.0,366.0 1584.5,390.0 1589.0,409.0 1593.5,441.7 1598.0,396.0 1602.5,377.1 1606.9,422.8 1611.4,436.3 1615.9,439.0 1620.4,428.2 1624.9,439.0 1629.3,412.1 1633.8,406.7 1638.3,358.3 1642.8,344.9 1647.3,406.7 1651.7,428.2 1656.2,396.0 1660.7,390.0 1665.2,390.0 1669.7,379.0 1674.1,392.0 1678.6,391.0 1683.1,395.0 1687.6,386.0 1692.1,374.0 1696.5,382.0 1701.0,380.0 1705.5,400.0 1710.0,357.0 1714.5,351.0 1719.0,366.0 1723.4,400.0 1727.9,369.0 1732.4,367.0 1736.9,356.0 1741.4,341.0 1745.8,342.0 1750.3,322.0 1754.8,300.0 1759.3,286.0 1763.8,298.0 1768.2,292.0 1772.7,252.0 1777.2,278.0 1781.7,328.0 1786.2,337.4 1790.6,340.1 1795.1,345.5 1799.6,367.0 1804.1,326.7 1808.6,315.9 1813.1,291.7 1817.5,353.6 1822.0,361.6 1826.5,375.1 1831.0,307.9 1835.5,294.4 1839.9,305.2 1844.4,313.2 1848.9,302.5 1853.4,299.8 1857.9,294.4 1862.3,364.3 1866.8,345.5 1871.3,330.7 1875.8,329.2 1880.3,338.6 1884.7,302.2 1889.2,317.0 1893.7,353.1 1898.2,324.8 1902.7,285.8 1907.1,354.3 1911.6,336.7 1916.1,359.5 1920.6,284.2 1925.1,308.4 1929.6,278.8 1934.0,265.4 1938.5,254.7 1943.0,289.6 1947.5,243.9 1952.0,295.0 1956.4,297.7 1960.9,276.2 1965.4,238.5 1969.9,235.8 1974.4,260.0 1978.8,219.7 1983.3,235.8 1987.8,276.2 1992.3,265.4 1996.8,249.3 2001.2,214.3 2005.7,254.7 2010.2,203.6 2014.7,165.9 2019.2,222.4 2023.7,227.8" stroke="#a020f0" stroke-width="2.9"/>
<polyline points="1486.0,446.0 1490.4,404.0 1494.9,414.0 1499.4,436.0 1503.9,468.0 1508.4,412.0 1512.8,416.0 1517.3,477.0 1521.8,408.0 1526.3,405.0 1530.8,415.0 1535.2,392.0 1539.7,431.0 1544.2,435.0 1548.7,420.0 1553.2,392.0 1557.6,385.0 1562.1,397.0 1566.6,402.0 1571.1,443.0 1575.6,416.0 1580.0,390.0 1584.5,411.0 1589.0,414.0 1593.5,418.0 1598.0,439.0 1602.5,419.0 1606.9,444.0 1611.4,403.0 1615.9,440.0 1620.4,469.0 1624.9,414.0 1629.3,450.0 1633.8,420.0 1638.3,376.0 1642.8,384.0 1647.3,426.0 1651.7,473.0 1656.2,436.0 1660.7,398.0 1665.2,373.0 1669.7,351.0 1674.1,383.0 1678.6,374.0 1683.1,368.0 1687.6,361.0 1692.1,346.0 1696.5,378.0 1701.0,341.0 1705.5,339.0 1710.0,311.4 1714.5,317.2 1719.0,323.1 1723.4,335.4 1727.9,316.5 1732.4,315.2 1736.9,319.9 1741.4,327.7 1745.8,311.7 1750.3,273.8 1754.8,256.8 1759.3,279.2 1763.8,292.6 1768.2,287.7 1772.7,313.7 1777.2,322.9 1781.7,327.7 1786.2,351.1 1790.6,345.5 1795.1,371.6 1799.6,347.2 1804.1,337.7 1808.6,311.6 1813.1,293.5 1817.5,318.8 1822.0,322.2 1826.5,372.4 1831.0,309.6 1835.5,301.5 1839.9,303.1 1844.4,312.5 1848.9,323.4 1853.4,328.6 1857.9,316.8 1862.3,333.8 1866.8,357.0 1871.3,351.0 1875.8,357.0 1880.3,361.0 1884.7,336.6 1889.2,338.4 1893.7,350.8 1898.2,334.4 1902.7,341.4 1907.1,354.8 1911.6,359.0 1916.1,303.6 1920.6,282.8 1925.1,338.0 1929.6,272.0 1934.0,258.0 1938.5,250.0 1943.0,264.0 1947.5,278.0 1952.0,268.0 1956.4,248.0 1960.9,292.0 1965.4,262.0 1969.9,228.0 1974.4,253.0 1978.8,165.0 1983.3,146.0 1987.8,190.0 1992.3,223.0 1996.8,182.0 2001.2,153.0 2005.7,200.0 2010.2,213.0 2014.7,144.0 2019.2,162.0 2023.7,176.0" stroke="#0000ff" stroke-width="4.0"/>
<polyline points="1486.0,460.0 1490.4,418.0 1494.9,428.0 1499.4,450.0 1503.9,482.0 1508.4,426.0 1512.8,430.0 1517.3,491.0 1521.8,422.0 1526.3,419.0 1530.8,429.0 1535.2,406.0 1539.7,445.0 1544.2,449.0 1548.7,434.0 1553.2,406.0 1557.6,399.0 1562.1,411.0 1566.6,416.0 1571.1,457.0 1575.6,430.0 1580.0,404.0 1584.5,425.0 1589.0,428.0 1593.5,432.0 1598.0,453.0 1602.5,433.0 1606.9,458.0 1611.4,417.0 1615.9,454.0 1620.4,483.0 1624.9,428.0 1629.3,464.0 1633.8,434.0 1638.3,390.0 1642.8,398.0 1647.3,440.0 1651.7,487.0 1656.2,450.0 1660.7,412.0 1665.2,385.0 1669.7,363.0 1674.1,395.0 1678.6,386.0 1683.1,380.0 1687.6,373.0 1692.1,358.0 1696.5,390.0 1701.0,353.0 1705.5,351.0 1710.0,287.0 1714.5,304.0 1719.0,306.0 1723.4,326.0 1727.9,298.0 1732.4,300.0 1736.9,304.0 1741.4,316.0 1745.8,300.0 1750.3,256.0 1754.8,236.0 1759.3,266.0 1763.8,281.0 1768.2,267.0 1772.7,302.0 1777.2,309.0 1781.7,307.0 1786.2,354.0 1790.6,333.0 1795.1,376.0 1799.6,338.0 1804.1,336.0 1808.6,306.0 1813.1,281.0 1817.5,320.0 1822.0,306.0 1826.5,388.0 1831.0,293.0 1835.5,297.0 1839.9,297.0 1844.4,306.0 1848.9,328.0 1853.4,334.0 1857.9,316.0 1862.3,336.0 1866.8,364.0 1871.3,352.0 1875.8,360.0 1880.3,368.0 1884.7,336.0 1889.2,340.0 1893.7,358.0 1898.2,334.0 1902.7,344.0 1907.1,358.0 1911.6,370.0 1916.1,302.0 1920.6,280.0 1925.1,316.0 1929.6,280.0 1934.0,266.0 1938.5,258.0 1943.0,272.0 1947.5,286.0 1952.0,276.0 1956.4,256.0 1960.9,300.0 1965.4,270.0 1969.9,218.0 1974.4,248.0 1978.8,142.0 1983.3,123.0 1987.8,180.0 1992.3,220.0 1996.8,170.0 2001.2,134.0 2005.7,186.0 2010.2,190.0 2014.7,122.0 2019.2,140.0 2023.7,150.0" stroke="#000" stroke-width="4.1"/>
</g>
<line x1="1485.95" y1="324.8" x2="2023.65" y2="324.8" stroke="#000" stroke-width="2.2"/>
<rect x="1485.95" y="55.9" width="537.7" height="537.7" fill="none" stroke="#000" stroke-width="3.4"/>
<g stroke="#000" fill="none"><path d="M1486.0,55.9V42.7M1486.0,593.6V607.3000000000001" stroke-width="3.3" stroke-linecap="round"/><path d="M1508.4,55.9V48.6M1508.4,593.6V601.1" stroke-width="1.9"/><path d="M1530.8,55.9V48.6M1530.8,593.6V601.1" stroke-width="1.9"/><path d="M1553.2,55.9V48.6M1553.2,593.6V601.1" stroke-width="1.9"/><path d="M1575.6,55.9V42.7M1575.6,593.6V607.3000000000001" stroke-width="3.3" stroke-linecap="round"/><path d="M1598.0,55.9V48.6M1598.0,593.6V601.1" stroke-width="1.9"/><path d="M1620.4,55.9V48.6M1620.4,593.6V601.1" stroke-width="1.9"/><path d="M1642.8,55.9V48.6M1642.8,593.6V601.1" stroke-width="1.9"/><path d="M1665.2,55.9V42.7M1665.2,593.6V607.3000000000001" stroke-width="3.3" stroke-linecap="round"/><path d="M1687.6,55.9V48.6M1687.6,593.6V601.1" stroke-width="1.9"/><path d="M1710.0,55.9V48.6M1710.0,593.6V601.1" stroke-width="1.9"/><path d="M1732.4,55.9V48.6M1732.4,593.6V601.1" stroke-width="1.9"/><path d="M1754.8,55.9V42.7M1754.8,593.6V607.3000000000001" stroke-width="3.3" stroke-linecap="round"/><path d="M1777.2,55.9V48.6M1777.2,593.6V601.1" stroke-width="1.9"/><path d="M1799.6,55.9V48.6M1799.6,593.6V601.1" stroke-width="1.9"/><path d="M1822.0,55.9V48.6M1822.0,593.6V601.1" stroke-width="1.9"/><path d="M1844.4,55.9V42.7M1844.4,593.6V607.3000000000001" stroke-width="3.3" stroke-linecap="round"/><path d="M1866.8,55.9V48.6M1866.8,593.6V601.1" stroke-width="1.9"/><path d="M1889.2,55.9V48.6M1889.2,593.6V601.1" stroke-width="1.9"/><path d="M1911.6,55.9V48.6M1911.6,593.6V601.1" stroke-width="1.9"/><path d="M1934.0,55.9V42.7M1934.0,593.6V607.3000000000001" stroke-width="3.3" stroke-linecap="round"/><path d="M1956.4,55.9V48.6M1956.4,593.6V601.1" stroke-width="1.9"/><path d="M1978.8,55.9V48.6M1978.8,593.6V601.1" stroke-width="1.9"/><path d="M2001.2,55.9V48.6M2001.2,593.6V601.1" stroke-width="1.9"/><path d="M2023.7,55.9V42.7M2023.7,593.6V607.3000000000001" stroke-width="3.3" stroke-linecap="round"/><path d="M1485.95,593.6H1478.05M2023.65,593.6H2031.5500000000002" stroke-width="1.9"/><path d="M1485.95,566.7H1478.05M2023.65,566.7H2031.5500000000002" stroke-width="1.9"/><path d="M1485.95,539.8H1471.95M2023.65,539.8H2037.65" stroke-width="3.3" stroke-linecap="round"/><path d="M1485.95,512.9H1478.05M2023.65,512.9H2031.5500000000002" stroke-width="1.9"/><path d="M1485.95,486.1H1478.05M2023.65,486.1H2031.5500000000002" stroke-width="1.9"/><path d="M1485.95,459.2H1478.05M2023.65,459.2H2031.5500000000002" stroke-width="1.9"/><path d="M1485.95,432.3H1471.95M2023.65,432.3H2037.65" stroke-width="3.3" stroke-linecap="round"/><path d="M1485.95,405.4H1478.05M2023.65,405.4H2031.5500000000002" stroke-width="1.9"/><path d="M1485.95,378.5H1478.05M2023.65,378.5H2031.5500000000002" stroke-width="1.9"/><path d="M1485.95,351.6H1478.05M2023.65,351.6H2031.5500000000002" stroke-width="1.9"/><path d="M1485.95,324.8H1471.95M2023.65,324.8H2037.65" stroke-width="3.3" stroke-linecap="round"/><path d="M1485.95,297.9H1478.05M2023.65,297.9H2031.5500000000002" stroke-width="1.9"/><path d="M1485.95,271.0H1478.05M2023.65,271.0H2031.5500000000002" stroke-width="1.9"/><path d="M1485.95,244.1H1478.05M2023.65,244.1H2031.5500000000002" stroke-width="1.9"/><path d="M1485.95,217.2H1471.95M2023.65,217.2H2037.65" stroke-width="3.3" stroke-linecap="round"/><path d="M1485.95,190.3H1478.05M2023.65,190.3H2031.5500000000002" stroke-width="1.9"/><path d="M1485.95,163.4H1478.05M2023.65,163.4H2031.5500000000002" stroke-width="1.9"/><path d="M1485.95,136.6H1478.05M2023.65,136.6H2031.5500000000002" stroke-width="1.9"/><path d="M1485.95,109.7H1471.95M2023.65,109.7H2037.65" stroke-width="3.3" stroke-linecap="round"/><path d="M1485.95,82.8H1478.05M2023.65,82.8H2031.5500000000002" stroke-width="1.9"/><path d="M1485.95,55.9H1478.05M2023.65,55.9H2031.5500000000002" stroke-width="1.9"/></g>
<g font-size="24.5" fill="#000">
<text x="1485.2" y="642.2" text-anchor="middle">1880</text>
<text x="1574.8" y="642.2" text-anchor="middle">1900</text>
<text x="1664.4" y="642.2" text-anchor="middle">1920</text>
<text x="1754.0" y="642.2" text-anchor="middle">1940</text>
<text x="1843.6" y="642.2" text-anchor="middle">1960</text>
<text x="1933.2" y="642.2" text-anchor="middle">1980</text>
<text x="2022.9" y="642.2" text-anchor="middle">2000</text>
<text x="1455.8" y="118.0" text-anchor="end">0.8</text>
<text x="1455.8" y="225.5" text-anchor="end">0.4</text>
<text x="1455.8" y="333.1" text-anchor="end">0.0</text>
<text x="1455.8" y="440.6" text-anchor="end">-0.4</text>
<text x="1455.8" y="548.1" text-anchor="end">-0.8</text>
</g>
<text transform="translate(1393.5,324.2) rotate(-90)" font-size="24.6" text-anchor="middle">Temperature anomaly(K)</text>
<text x="1485.0" y="20.3" font-size="27">c)Global mean temperature</text>
<text x="2025.0" y="20.9" font-size="27.2" text-anchor="end">Comp.</text>
<g font-size="24">
<line x1="1508.7" y1="82.5" x2="1553.2" y2="82.5" stroke="#0000ff" stroke-width="2.9" stroke-linecap="round"/>
<text x="1574.5" y="90.8">OEnKF</text>
<line x1="1508.7" y1="109.5" x2="1553.2" y2="109.5" stroke="#000000" stroke-width="2.9" stroke-linecap="round"/>
<text x="1574.5" y="117.8">HGAOEnKF</text>
<line x1="1508.7" y1="136.5" x2="1553.2" y2="136.5" stroke="#ff0000" stroke-width="2.9" stroke-linecap="round"/>
<text x="1574.5" y="144.8">20CR</text>
<line x1="1508.7" y1="163.4" x2="1553.2" y2="163.4" stroke="#00ff00" stroke-width="2.9" stroke-linecap="round"/>
<text x="1574.5" y="171.7">BE</text>
<line x1="1508.7" y1="190.4" x2="1553.2" y2="190.4" stroke="#ffff00" stroke-width="2.9" stroke-linecap="round"/>
<text x="1574.5" y="198.7">GISTEMP</text>
<line x1="1508.7" y1="217.4" x2="1553.2" y2="217.4" stroke="#00ffff" stroke-width="2.9" stroke-linecap="round"/>
<text x="1574.5" y="225.7">HadCRUT</text>
<line x1="1508.7" y1="244.4" x2="1553.2" y2="244.4" stroke="#ff00ff" stroke-width="2.9" stroke-linecap="round"/>
<text x="1574.5" y="252.7">MLOST</text>
<line x1="1508.7" y1="271.4" x2="1553.2" y2="271.4" stroke="#a020f0" stroke-width="2.9" stroke-linecap="round"/>
<text x="1574.5" y="279.7">NOAA</text>
</g>
</g>
</svg>
</body></html>
